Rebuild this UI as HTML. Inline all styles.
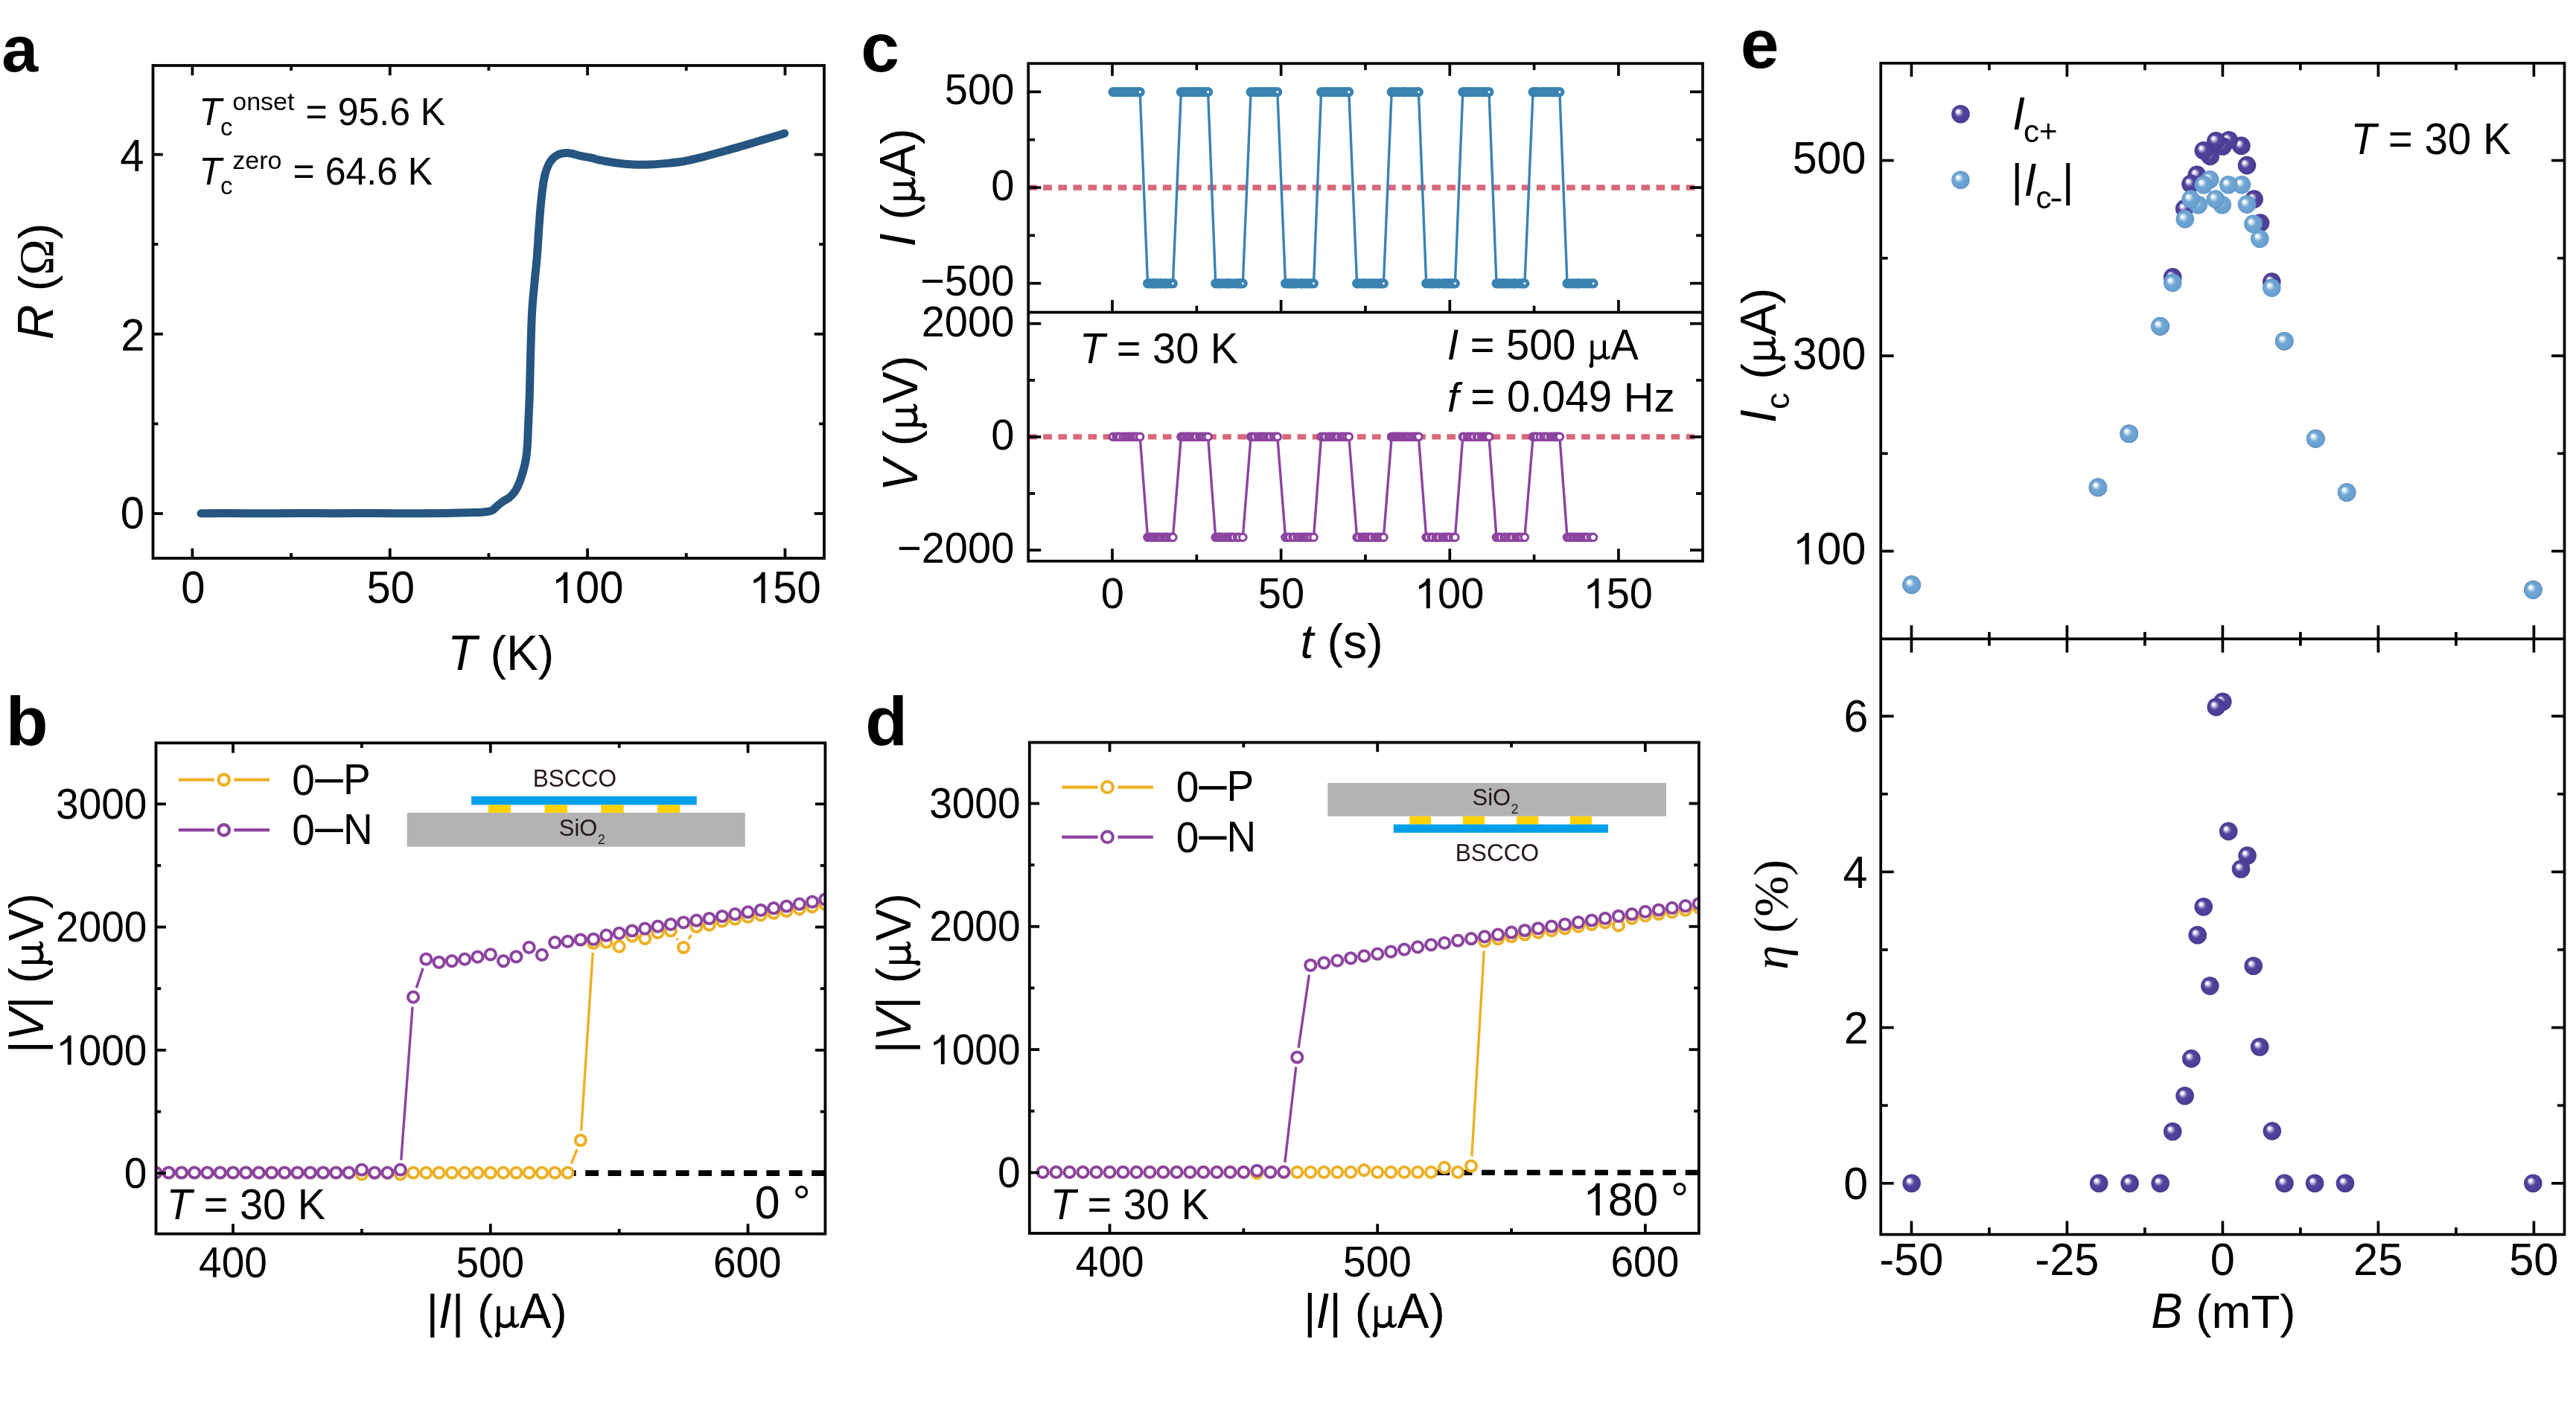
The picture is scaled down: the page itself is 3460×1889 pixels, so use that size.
<!DOCTYPE html>
<html><head><meta charset="utf-8"><style>
html,body{margin:0;padding:0;background:#fff;}
svg{display:block;will-change:transform;}
text{font-family:"Liberation Sans",sans-serif;font-kerning:none;white-space:pre;}
</style></head><body>
<svg xmlns="http://www.w3.org/2000/svg" xml:space="preserve" width="3460" height="1889" viewBox="0 0 3460 1889" font-family="Liberation Sans, sans-serif">
<defs><radialGradient id="gP" cx="0.5" cy="0.5" r="0.5" fx="0.33" fy="0.33">
<stop offset="0" stop-color="#ffffff"/><stop offset="0.13" stop-color="#fbfaff"/><stop offset="0.3" stop-color="#a49ccf"/>
<stop offset="0.48" stop-color="#51449c"/><stop offset="0.9" stop-color="#4b3e95"/><stop offset="1" stop-color="#43378c"/></radialGradient>
<radialGradient id="gB" cx="0.5" cy="0.5" r="0.5" fx="0.33" fy="0.33">
<stop offset="0" stop-color="#ffffff"/><stop offset="0.13" stop-color="#fbfdff"/><stop offset="0.3" stop-color="#b3d2eb"/>
<stop offset="0.48" stop-color="#70a7d4"/><stop offset="0.9" stop-color="#689fcf"/><stop offset="1" stop-color="#5d94c4"/></radialGradient></defs>
<rect x="0" y="0" width="3460" height="1889" fill="#fff"/>
<path d="M270 689.8 C275 689.73 286.67 689.4 300 689.4 C313.33 689.4 333.33 689.78 350 689.8 C366.67 689.82 383.33 689.52 400 689.5 C416.67 689.48 433.33 689.7 450 689.7 C466.67 689.7 483.33 689.48 500 689.5 C516.67 689.52 533.33 689.82 550 689.8 C566.67 689.78 585 689.6 600 689.4 C615 689.2 631.2 688.9 640 688.6 C648.8 688.3 649.25 688.1 652.8 687.6 C656.35 687.1 658.88 686.82 661.3 685.6 C663.72 684.38 664.88 682.3 667.3 680.3 C669.72 678.3 672.95 675.6 675.8 673.6 C678.65 671.6 681.98 670.23 684.4 668.3 C686.82 666.37 688.6 664.2 690.3 662 C692 659.8 693.17 657.97 694.6 655.1 C696.03 652.23 697.48 648.78 698.9 644.8 C700.32 640.82 701.9 635.6 703.1 631.2 C704.3 626.8 705.32 622.67 706.1 618.4 C706.88 614.13 707.37 609.87 707.8 605.6 C708.23 601.33 708.4 598.73 708.7 592.8 C709 586.87 709.17 580.27 709.6 570 C710.03 559.73 710.78 547.15 711.3 531.2 C711.82 515.25 712.13 493.25 712.7 474.3 C713.27 455.35 713.75 434.08 714.7 417.5 C715.65 400.92 717.32 386.65 718.4 374.8 C719.48 362.95 720.25 358.25 721.2 346.4 C722.15 334.55 723.15 316.5 724.1 303.7 C725.05 290.9 725.72 280.5 726.9 269.6 C728.08 258.7 729.3 246.83 731.2 238.3 C733.1 229.77 735.47 223.37 738.3 218.4 C741.13 213.43 744.17 210.63 748.2 208.5 C752.23 206.37 757.28 205.47 762.5 205.6 C767.72 205.73 773.82 208.12 779.5 209.3 C785.18 210.48 792.63 211.8 796.6 212.7 C800.57 213.6 798.3 213.68 803.3 214.7 C808.3 215.72 818.83 217.73 826.6 218.8 C834.37 219.87 842.13 220.72 849.9 221.1 C857.67 221.48 865.43 221.38 873.2 221.1 C880.97 220.82 888.75 220.17 896.5 219.4 C904.25 218.63 911.95 217.87 919.7 216.5 C927.45 215.13 935.23 213.15 943 211.2 C950.77 209.25 958.53 206.93 966.3 204.8 C974.07 202.67 981.83 200.63 989.6 198.4 C997.37 196.17 1005.13 193.72 1012.9 191.4 C1020.67 189.08 1029.4 186.53 1036.2 184.5 C1043 182.47 1050.78 180.08 1053.7 179.2" fill="none" stroke="#255580" stroke-width="11" stroke-linejoin="round" stroke-linecap="round"/>
<rect x="205.5" y="88" width="901.5" height="662" fill="none" stroke="#000" stroke-width="3.8" stroke-linejoin="miter"/>
<line x1="258.4" y1="750" x2="258.4" y2="736.7" stroke="#000" stroke-width="3.8"/>
<line x1="258.4" y1="88" x2="258.4" y2="101.3" stroke="#000" stroke-width="3.8"/>
<line x1="523.75" y1="750" x2="523.75" y2="736.7" stroke="#000" stroke-width="3.8"/>
<line x1="523.75" y1="88" x2="523.75" y2="101.3" stroke="#000" stroke-width="3.8"/>
<line x1="789.1" y1="750" x2="789.1" y2="736.7" stroke="#000" stroke-width="3.8"/>
<line x1="789.1" y1="88" x2="789.1" y2="101.3" stroke="#000" stroke-width="3.8"/>
<line x1="1054.45" y1="750" x2="1054.45" y2="736.7" stroke="#000" stroke-width="3.8"/>
<line x1="1054.45" y1="88" x2="1054.45" y2="101.3" stroke="#000" stroke-width="3.8"/>
<line x1="391.07" y1="750" x2="391.07" y2="743.1" stroke="#000" stroke-width="3.8"/>
<line x1="391.07" y1="88" x2="391.07" y2="94.9" stroke="#000" stroke-width="3.8"/>
<line x1="656.42" y1="750" x2="656.42" y2="743.1" stroke="#000" stroke-width="3.8"/>
<line x1="656.42" y1="88" x2="656.42" y2="94.9" stroke="#000" stroke-width="3.8"/>
<line x1="921.77" y1="750" x2="921.77" y2="743.1" stroke="#000" stroke-width="3.8"/>
<line x1="921.77" y1="88" x2="921.77" y2="94.9" stroke="#000" stroke-width="3.8"/>
<line x1="205.5" y1="690" x2="218.8" y2="690" stroke="#000" stroke-width="3.8"/>
<line x1="1107" y1="690" x2="1093.7" y2="690" stroke="#000" stroke-width="3.8"/>
<line x1="205.5" y1="448.8" x2="218.8" y2="448.8" stroke="#000" stroke-width="3.8"/>
<line x1="1107" y1="448.8" x2="1093.7" y2="448.8" stroke="#000" stroke-width="3.8"/>
<line x1="205.5" y1="207.6" x2="218.8" y2="207.6" stroke="#000" stroke-width="3.8"/>
<line x1="1107" y1="207.6" x2="1093.7" y2="207.6" stroke="#000" stroke-width="3.8"/>
<line x1="205.5" y1="569.4" x2="212.4" y2="569.4" stroke="#000" stroke-width="3.8"/>
<line x1="1107" y1="569.4" x2="1100.1" y2="569.4" stroke="#000" stroke-width="3.8"/>
<line x1="205.5" y1="328.2" x2="212.4" y2="328.2" stroke="#000" stroke-width="3.8"/>
<line x1="1107" y1="328.2" x2="1100.1" y2="328.2" stroke="#000" stroke-width="3.8"/>
<g transform="translate(243.27,810.2) scale(1,1.04)"><text x="0" y="0" font-size="58">0</text></g>
<g transform="translate(492.46,810.2) scale(1,1.04)"><text x="0" y="0" font-size="58">50</text></g>
<path d="M763 0L583 0L583 1100C540 1062 483 1024 413 987C343 950 280 922 223 902L223 1058C310 1095 386 1139 452 1191C518 1243 575 1320 605 1409L763 1409Z" fill="#000" transform="translate(740.64,810.2) scale(0.02832,-0.02945)"/>
<g transform="translate(772.9,810.2) scale(1,1.04)"><text x="0" y="0" font-size="58">00</text></g>
<path d="M763 0L583 0L583 1100C540 1062 483 1024 413 987C343 950 280 922 223 902L223 1058C310 1095 386 1139 452 1191C518 1243 575 1320 605 1409L763 1409Z" fill="#000" transform="translate(1005.99,810.2) scale(0.02832,-0.02945)"/>
<g transform="translate(1038.25,810.2) scale(1,1.04)"><text x="0" y="0" font-size="58">50</text></g>
<g transform="translate(161.71,710.32) scale(1,1.04)"><text x="0" y="0" font-size="58">0</text></g>
<g transform="translate(162.36,470.52) scale(1,1.04)"><text x="0" y="0" font-size="58">2</text></g>
<g transform="translate(161.14,230.1) scale(1,1.04)"><text x="0" y="0" font-size="58">4</text></g>
<g transform="translate(601.21,900.3) scale(1,1.04)"><text x="0" y="0" font-size="64.4" font-style="italic">T</text></g>
<text x="640.55" y="900.3" font-size="64.4"> (</text>
<g transform="translate(679.89,900.3) scale(1,1.04)"><text x="0" y="0" font-size="64.4">K</text></g>
<text x="722.84" y="900.3" font-size="64.4">)</text>
<g transform="translate(70.8,456.3) rotate(-90)"><g transform="translate(0,0) scale(1,1.04)"><text x="0" y="0" font-size="65" font-style="italic">R</text></g><text x="46.94" y="0" font-size="65"> (</text><text x="86.65" y="0" font-size="65" style="font-family:&quot;Liberation Serif&quot;,serif">Ω</text><text x="134.95" y="0" font-size="65">)</text></g>
<g transform="translate(267.21,168.3) scale(1,1.04)"><text x="0" y="0" font-size="50" font-style="italic">T</text></g>
<text x="296" y="182" font-size="33">c</text>
<text x="312.27" y="148.1" font-size="34">onset</text>
<g transform="translate(410.56,168.3) scale(1,1.04)"><text x="0" y="0" font-size="50">=</text></g>
<text x="439.76" y="168.3" font-size="50"> </text>
<g transform="translate(453.65,168.3) scale(1,1.04)"><text x="0" y="0" font-size="50">95.6</text></g>
<text x="550.96" y="168.3" font-size="50"> </text>
<g transform="translate(564.86,168.3) scale(1,1.04)"><text x="0" y="0" font-size="50">K</text></g>
<g transform="translate(267.21,247.5) scale(1,1.04)"><text x="0" y="0" font-size="50" font-style="italic">T</text></g>
<text x="296" y="261" font-size="33">c</text>
<text x="312.32" y="226.6" font-size="34">zero</text>
<g transform="translate(393.56,247.5) scale(1,1.04)"><text x="0" y="0" font-size="50">=</text></g>
<text x="422.76" y="247.5" font-size="50"> </text>
<g transform="translate(436.65,247.5) scale(1,1.04)"><text x="0" y="0" font-size="50">64.6</text></g>
<text x="533.96" y="247.5" font-size="50"> </text>
<g transform="translate(547.86,247.5) scale(1,1.04)"><text x="0" y="0" font-size="50">K</text></g>
<text x="2.32" y="96.04" font-size="88" font-weight="bold">a</text>
<clipPath id="clipb"><rect x="209.5" y="998.2" width="898.9" height="659.5"/></clipPath>
<g clip-path="url(#clipb)">
<line x1="755.8" y1="1576.1" x2="1108.4" y2="1576.1" stroke="#000" stroke-width="7.6" stroke-dasharray="17.8 12.6"/>
<path d="M767.33 1563.52 L775.04 1544.08 M780.68 1519.03 L796.27 1279.97 M908.78 1260.81 L910.23 1262.69 M924.98 1261.94 L928.61 1256.06" stroke="#ECB024" stroke-width="3.4" fill="none" stroke-linecap="butt"/>
<g fill="#fff" stroke="#ECB024" stroke-width="4"><circle cx="209.26" cy="1575.5" r="7.1"/><circle cx="226.55" cy="1575.5" r="7.1"/><circle cx="243.84" cy="1575.5" r="7.1"/><circle cx="261.13" cy="1575.5" r="7.1"/><circle cx="278.42" cy="1575.5" r="7.1"/><circle cx="295.71" cy="1575.5" r="7.1"/><circle cx="313" cy="1575.5" r="7.1"/><circle cx="330.29" cy="1575.5" r="7.1"/><circle cx="347.58" cy="1575.5" r="7.1"/><circle cx="364.87" cy="1575.5" r="7.1"/><circle cx="382.16" cy="1575.5" r="7.1"/><circle cx="399.45" cy="1575.5" r="7.1"/><circle cx="416.74" cy="1575.5" r="7.1"/><circle cx="434.03" cy="1575.5" r="7.1"/><circle cx="451.32" cy="1575.5" r="7.1"/><circle cx="468.61" cy="1575.5" r="7.1"/><circle cx="485.9" cy="1577.6" r="7.1"/><circle cx="503.19" cy="1575.8" r="7.1"/><circle cx="520.48" cy="1575.8" r="7.1"/><circle cx="537.77" cy="1577.6" r="7.1"/><circle cx="555.06" cy="1575.6" r="7.1"/><circle cx="572.35" cy="1575.6" r="7.1"/><circle cx="589.64" cy="1575.6" r="7.1"/><circle cx="606.93" cy="1575.6" r="7.1"/><circle cx="624.22" cy="1575.6" r="7.1"/><circle cx="641.51" cy="1575.6" r="7.1"/><circle cx="658.8" cy="1575.6" r="7.1"/><circle cx="676.09" cy="1575.6" r="7.1"/><circle cx="693.38" cy="1575.6" r="7.1"/><circle cx="710.67" cy="1575.6" r="7.1"/><circle cx="727.96" cy="1575.6" r="7.1"/><circle cx="745.25" cy="1575.6" r="7.1"/><circle cx="762.54" cy="1575.6" r="7.1"/><circle cx="779.83" cy="1532" r="7.1"/><circle cx="797.12" cy="1267" r="7.1"/><circle cx="814.41" cy="1265.7" r="7.1"/><circle cx="831.7" cy="1271.6" r="7.1"/><circle cx="848.99" cy="1257.5" r="7.1"/><circle cx="866.28" cy="1261" r="7.1"/><circle cx="883.57" cy="1253" r="7.1"/><circle cx="900.86" cy="1250.5" r="7.1"/><circle cx="918.15" cy="1273" r="7.1"/><circle cx="935.44" cy="1245" r="7.1"/><circle cx="952.73" cy="1242.6" r="7.1"/><circle cx="970.02" cy="1237.5" r="7.1"/><circle cx="987.31" cy="1234.6" r="7.1"/><circle cx="1004.6" cy="1231.9" r="7.1"/><circle cx="1021.89" cy="1229.3" r="7.1"/><circle cx="1039.18" cy="1226.7" r="7.1"/><circle cx="1056.47" cy="1224" r="7.1"/><circle cx="1073.76" cy="1221.1" r="7.1"/><circle cx="1091.05" cy="1218.1" r="7.1"/><circle cx="1108.34" cy="1214.8" r="7.1"/></g>
<path d="M538.74 1558.64 L554.09 1352.56 M559.23 1327.29 L568.18 1300.91" stroke="#8C44A0" stroke-width="3.4" fill="none" stroke-linecap="butt"/>
<g fill="#fff" stroke="#8C44A0" stroke-width="4"><circle cx="209.26" cy="1575.5" r="7.1"/><circle cx="226.55" cy="1575.5" r="7.1"/><circle cx="243.84" cy="1575.5" r="7.1"/><circle cx="261.13" cy="1575.5" r="7.1"/><circle cx="278.42" cy="1575.5" r="7.1"/><circle cx="295.71" cy="1575.5" r="7.1"/><circle cx="313" cy="1575.5" r="7.1"/><circle cx="330.29" cy="1575.5" r="7.1"/><circle cx="347.58" cy="1575.5" r="7.1"/><circle cx="364.87" cy="1575.5" r="7.1"/><circle cx="382.16" cy="1575.5" r="7.1"/><circle cx="399.45" cy="1575.5" r="7.1"/><circle cx="416.74" cy="1575.5" r="7.1"/><circle cx="434.03" cy="1575.5" r="7.1"/><circle cx="451.32" cy="1575.5" r="7.1"/><circle cx="468.61" cy="1575.5" r="7.1"/><circle cx="485.9" cy="1571.6" r="7.1"/><circle cx="503.19" cy="1575.5" r="7.1"/><circle cx="520.48" cy="1575.6" r="7.1"/><circle cx="537.77" cy="1571.6" r="7.1"/><circle cx="555.06" cy="1339.6" r="7.1"/><circle cx="572.35" cy="1288.6" r="7.1"/><circle cx="589.64" cy="1292.8" r="7.1"/><circle cx="606.93" cy="1291.1" r="7.1"/><circle cx="624.22" cy="1288.6" r="7.1"/><circle cx="641.51" cy="1285.6" r="7.1"/><circle cx="658.8" cy="1282.4" r="7.1"/><circle cx="676.09" cy="1291.1" r="7.1"/><circle cx="693.38" cy="1285.3" r="7.1"/><circle cx="710.67" cy="1272.9" r="7.1"/><circle cx="727.96" cy="1282.9" r="7.1"/><circle cx="745.25" cy="1266.2" r="7.1"/><circle cx="762.54" cy="1264.9" r="7.1"/><circle cx="779.83" cy="1262.5" r="7.1"/><circle cx="797.12" cy="1261.8" r="7.1"/><circle cx="814.41" cy="1256.7" r="7.1"/><circle cx="831.7" cy="1253.8" r="7.1"/><circle cx="848.99" cy="1250.5" r="7.1"/><circle cx="866.28" cy="1247.6" r="7.1"/><circle cx="883.57" cy="1244.6" r="7.1"/><circle cx="900.86" cy="1241.9" r="7.1"/><circle cx="918.15" cy="1239.3" r="7.1"/><circle cx="935.44" cy="1236.7" r="7.1"/><circle cx="952.73" cy="1234" r="7.1"/><circle cx="970.02" cy="1231" r="7.1"/><circle cx="987.31" cy="1228.1" r="7.1"/><circle cx="1004.6" cy="1225.4" r="7.1"/><circle cx="1021.89" cy="1222.8" r="7.1"/><circle cx="1039.18" cy="1220.2" r="7.1"/><circle cx="1056.47" cy="1217.5" r="7.1"/><circle cx="1073.76" cy="1214.6" r="7.1"/><circle cx="1091.05" cy="1211.6" r="7.1"/><circle cx="1108.34" cy="1208.3" r="7.1"/></g>
</g>
<rect x="209.5" y="998.2" width="898.9" height="659.5" fill="none" stroke="#000" stroke-width="3.8" stroke-linejoin="miter"/>
<line x1="313" y1="1657.7" x2="313" y2="1644.3" stroke="#000" stroke-width="3.8"/>
<line x1="313" y1="998.2" x2="313" y2="1011.6" stroke="#000" stroke-width="3.8"/>
<line x1="658.8" y1="1657.7" x2="658.8" y2="1644.3" stroke="#000" stroke-width="3.8"/>
<line x1="658.8" y1="998.2" x2="658.8" y2="1011.6" stroke="#000" stroke-width="3.8"/>
<line x1="1004.6" y1="1657.7" x2="1004.6" y2="1644.3" stroke="#000" stroke-width="3.8"/>
<line x1="1004.6" y1="998.2" x2="1004.6" y2="1011.6" stroke="#000" stroke-width="3.8"/>
<line x1="485.9" y1="1657.7" x2="485.9" y2="1651" stroke="#000" stroke-width="3.8"/>
<line x1="485.9" y1="998.2" x2="485.9" y2="1004.9" stroke="#000" stroke-width="3.8"/>
<line x1="831.7" y1="1657.7" x2="831.7" y2="1651" stroke="#000" stroke-width="3.8"/>
<line x1="831.7" y1="998.2" x2="831.7" y2="1004.9" stroke="#000" stroke-width="3.8"/>
<line x1="209.5" y1="1576.2" x2="222.9" y2="1576.2" stroke="#000" stroke-width="3.8"/>
<line x1="1108.4" y1="1576.2" x2="1095" y2="1576.2" stroke="#000" stroke-width="3.8"/>
<line x1="209.5" y1="1410.87" x2="222.9" y2="1410.87" stroke="#000" stroke-width="3.8"/>
<line x1="1108.4" y1="1410.87" x2="1095" y2="1410.87" stroke="#000" stroke-width="3.8"/>
<line x1="209.5" y1="1245.54" x2="222.9" y2="1245.54" stroke="#000" stroke-width="3.8"/>
<line x1="1108.4" y1="1245.54" x2="1095" y2="1245.54" stroke="#000" stroke-width="3.8"/>
<line x1="209.5" y1="1080.21" x2="222.9" y2="1080.21" stroke="#000" stroke-width="3.8"/>
<line x1="1108.4" y1="1080.21" x2="1095" y2="1080.21" stroke="#000" stroke-width="3.8"/>
<line x1="209.5" y1="1493.54" x2="216.2" y2="1493.54" stroke="#000" stroke-width="3.8"/>
<line x1="1108.4" y1="1493.54" x2="1101.7" y2="1493.54" stroke="#000" stroke-width="3.8"/>
<line x1="209.5" y1="1328.2" x2="216.2" y2="1328.2" stroke="#000" stroke-width="3.8"/>
<line x1="1108.4" y1="1328.2" x2="1101.7" y2="1328.2" stroke="#000" stroke-width="3.8"/>
<line x1="209.5" y1="1162.88" x2="216.2" y2="1162.88" stroke="#000" stroke-width="3.8"/>
<line x1="1108.4" y1="1162.88" x2="1101.7" y2="1162.88" stroke="#000" stroke-width="3.8"/>
<g transform="translate(267.06,1715.7) scale(1,1.04)"><text x="0" y="0" font-size="55">400</text></g>
<g transform="translate(612.39,1715.7) scale(1,1.04)"><text x="0" y="0" font-size="55">500</text></g>
<g transform="translate(957.9,1715.7) scale(1,1.04)"><text x="0" y="0" font-size="55">600</text></g>
<g transform="translate(166.86,1595.89) scale(1,1.04)"><text x="0" y="0" font-size="55">0</text></g>
<path d="M763 0L583 0L583 1100C540 1062 483 1024 413 987C343 950 280 922 223 902L223 1058C310 1095 386 1139 452 1191C518 1243 575 1320 605 1409L763 1409Z" fill="#000" transform="translate(75.09,1430.56) scale(0.02686,-0.02793)"/>
<g transform="translate(105.68,1430.56) scale(1,1.04)"><text x="0" y="0" font-size="55">000</text></g>
<g transform="translate(75.09,1265.23) scale(1,1.04)"><text x="0" y="0" font-size="55">2000</text></g>
<g transform="translate(75.09,1099.9) scale(1,1.04)"><text x="0" y="0" font-size="55">3000</text></g>
<text x="572.4" y="1783.7" font-size="63.8">|</text>
<g transform="translate(588.97,1783.7) scale(1,1.04)"><text x="0" y="0" font-size="63.8" font-style="italic">I</text></g>
<text x="606.7" y="1783.7" font-size="63.8">| (</text>
<path d="M0 451L72 451L72 123C90 80 130 69 181 69C230 69 270 100 294 139L294 451L368 451L368 108C368 72 385 58 410 62C430 66 448 80 470 100L470 45C445 15 415 -4 385 -4C345 -4 315 18 302 48C275 12 225 -9 170 -9C128 -9 95 3 72 22L62 -80C70 -105 76 -130 70 -155C62 -188 40 -205 13 -205C-15 -205 -36 -185 -36 -157C-36 -130 -20 -112 -8 -92C-3 -75 0 -50 0 0Z" fill="#000" transform="translate(662.24,1783.7) scale(0.06380,-0.06380) translate(77,0)"/>
<g transform="translate(697.97,1783.7) scale(1,1.04)"><text x="0" y="0" font-size="63.8">A</text></g>
<text x="740.52" y="1783.7" font-size="63.8">)</text>
<g transform="translate(58,1415.03) rotate(-90)"><text x="0" y="0" font-size="64.1">|</text><g transform="translate(16.65,0) scale(1,1.04)"><text x="0" y="0" font-size="64.1" font-style="italic">V</text></g><text x="59.41" y="0" font-size="64.1">| (</text><path d="M0 451L72 451L72 123C90 80 130 69 181 69C230 69 270 100 294 139L294 451L368 451L368 108C368 72 385 58 410 62C430 66 448 80 470 100L470 45C445 15 415 -4 385 -4C345 -4 315 18 302 48C275 12 225 -9 170 -9C128 -9 95 3 72 22L62 -80C70 -105 76 -130 70 -155C62 -188 40 -205 13 -205C-15 -205 -36 -185 -36 -157C-36 -130 -20 -112 -8 -92C-3 -75 0 -50 0 0Z" fill="#000" transform="translate(115.21,0) scale(0.06410,-0.06410) translate(77,0)"/><g transform="translate(151.11,0) scale(1,1.04)"><text x="0" y="0" font-size="64.1">V</text></g><text x="193.86" y="0" font-size="64.1">)</text></g>
<line x1="239.8" y1="1047.7" x2="287.9" y2="1047.7" stroke="#ECB024" stroke-width="4.2"/>
<line x1="314.3" y1="1047.7" x2="362.1" y2="1047.7" stroke="#ECB024" stroke-width="4.2"/>
<circle cx="300.7" cy="1047.7" r="7.2" fill="none" stroke="#ECB024" stroke-width="4.3"/>
<line x1="239.8" y1="1115.2" x2="287.9" y2="1115.2" stroke="#8C44A0" stroke-width="4.2"/>
<line x1="314.3" y1="1115.2" x2="362.1" y2="1115.2" stroke="#8C44A0" stroke-width="4.2"/>
<circle cx="300.7" cy="1115.2" r="7.2" fill="none" stroke="#8C44A0" stroke-width="4.3"/>
<g transform="translate(392.15,1067.64) scale(1,1.04)"><text x="0" y="0" font-size="55">0</text></g>
<rect x="423.2" y="1047" width="37.6" height="4.4" fill="#000"/>
<g transform="translate(460.99,1066.6) scale(1,1.04)"><text x="0" y="0" font-size="55">P</text></g>
<g transform="translate(392.15,1134.94) scale(1,1.04)"><text x="0" y="0" font-size="55">0</text></g>
<rect x="423.2" y="1113.6" width="37.6" height="4.4" fill="#000"/>
<g transform="translate(460.99,1133.9) scale(1,1.04)"><text x="0" y="0" font-size="55">N</text></g>
<rect x="546.7" y="1091.9" width="454.1" height="45.7" fill="#B3B3B3"/>
<rect x="633.1" y="1069.8" width="302.7" height="11.6" fill="#00A0E9"/>
<rect x="655.9" y="1081.4" width="30.1" height="10.5" fill="#FFD100"/>
<rect x="731.6" y="1081.4" width="30.5" height="10.5" fill="#FFD100"/>
<rect x="807.3" y="1081.4" width="30.3" height="10.5" fill="#FFD100"/>
<rect x="882.9" y="1081.4" width="30.4" height="10.5" fill="#FFD100"/>
<g transform="translate(715.71,1057.25) scale(1,1.04)"><text x="0" y="0" font-size="31.6" fill="#231815">BSCCO</text></g>
<text x="750.79" y="1122.7" font-size="31" fill="#231815">SiO</text>
<g transform="translate(803.02,1133.6) scale(1,1.04)"><text x="0" y="0" font-size="17.5" fill="#231815">2</text></g>
<g transform="translate(223.87,1638.2) scale(1,1.04)"><text x="0" y="0" font-size="56" font-style="italic">T</text></g>
<text x="258.08" y="1638.2" font-size="56"> </text>
<g transform="translate(273.63,1638.2) scale(1,1.04)"><text x="0" y="0" font-size="56">=</text></g>
<text x="306.34" y="1638.2" font-size="56"> </text>
<g transform="translate(321.9,1638.2) scale(1,1.04)"><text x="0" y="0" font-size="56">30</text></g>
<text x="384.19" y="1638.2" font-size="56"> </text>
<g transform="translate(399.74,1638.2) scale(1,1.04)"><text x="0" y="0" font-size="56">K</text></g>
<g transform="translate(1013.83,1636.65) scale(1,1.04)"><text x="0" y="0" font-size="60.8">0</text></g>
<text x="1047.65" y="1636.65" font-size="60.8"> </text>
<g transform="translate(1064.54,1636.65) scale(1,1.04)"><text x="0" y="0" font-size="60.8">°</text></g>
<text x="7.77" y="1000.7" font-size="93" font-weight="bold">b</text>
<line x1="1381.2" y1="252" x2="2278" y2="252" stroke="#D8687A" stroke-width="7.4" stroke-dasharray="11.6 8.48"/>
<line x1="1381.2" y1="586.9" x2="2278" y2="586.9" stroke="#D8687A" stroke-width="7.4" stroke-dasharray="11.6 8.48"/>
<path d="M1495 123.6 L1497.4 123.6 L1499.4 123.6 L1502.2 123.6 L1506.8 123.6 L1508.4 123.6 L1510 123.6 L1513.2 123.6 L1514.8 123.6 L1517.2 123.6 L1520.4 123.6 L1522 123.6 L1525.2 123.6 L1527.2 123.6 L1528.8 123.6 L1531.2 123.6 L1541.5 380.8 L1544.3 380.8 L1547.1 380.8 L1548.7 380.8 L1550.7 380.8 L1552.3 380.8 L1555.5 380.8 L1558.3 380.8 L1559.9 380.8 L1563.1 380.8 L1564.7 380.8 L1566.7 380.8 L1571.3 380.8 L1575.4 380.8 L1586.4 123.6 L1589.6 123.6 L1591.2 123.6 L1594.4 123.6 L1597.6 123.6 L1600.4 123.6 L1602 123.6 L1604 123.6 L1605.6 123.6 L1608.8 123.6 L1610.8 123.6 L1613.2 123.6 L1616 123.6 L1618 123.6 L1621.2 123.6 L1622.6 123.6 L1632.7 380.8 L1635.9 380.8 L1638.3 380.8 L1641.5 380.8 L1646.1 380.8 L1648.1 380.8 L1649.7 380.8 L1652.9 380.8 L1656.1 380.8 L1660.7 380.8 L1662.7 380.8 L1665.1 380.8 L1666.7 380.8 L1669.3 380.8 L1680.1 123.6 L1684.7 123.6 L1686.3 123.6 L1689.5 123.6 L1691.1 123.6 L1694.3 123.6 L1696.3 123.6 L1699.1 123.6 L1703.7 123.6 L1706.9 123.6 L1709.7 123.6 L1712.1 123.6 L1715.8 123.6 L1726.5 380.8 L1729.7 380.8 L1732.5 380.8 L1734.9 380.8 L1737.3 380.8 L1739.3 380.8 L1741.3 380.8 L1745.9 380.8 L1747.9 380.8 L1749.5 380.8 L1752.7 380.8 L1755.1 380.8 L1758.3 380.8 L1761.1 380.8 L1764.5 380.8 L1774.6 123.6 L1779.2 123.6 L1782 123.6 L1784.4 123.6 L1787.6 123.6 L1789.2 123.6 L1790.8 123.6 L1794 123.6 L1796.8 123.6 L1798.8 123.6 L1801.2 123.6 L1803.2 123.6 L1806 123.6 L1808.8 123.6 L1810.4 123.6 L1811.8 123.6 L1822.6 380.8 L1824.2 380.8 L1827.4 380.8 L1830.6 380.8 L1833 380.8 L1835.4 380.8 L1840 380.8 L1842.4 380.8 L1845.6 380.8 L1848.4 380.8 L1851.6 380.8 L1854.4 380.8 L1856 380.8 L1858.4 380.8 L1869.2 123.6 L1871.6 123.6 L1874.4 123.6 L1879 123.6 L1883.6 123.6 L1885.2 123.6 L1886.8 123.6 L1891.4 123.6 L1896 123.6 L1898.4 123.6 L1903 123.6 L1905.4 123.6 L1915.7 380.8 L1920.3 380.8 L1923.1 380.8 L1925.5 380.8 L1930.1 380.8 L1932.9 380.8 L1937.5 380.8 L1939.9 380.8 L1941.5 380.8 L1944.3 380.8 L1946.7 380.8 L1948.7 380.8 L1951.9 380.8 L1954.4 380.8 L1964.8 123.6 L1967.6 123.6 L1969.2 123.6 L1971.2 123.6 L1973.6 123.6 L1975.6 123.6 L1980.2 123.6 L1982.2 123.6 L1985 123.6 L1987.8 123.6 L1990.6 123.6 L1992.2 123.6 L1994.2 123.6 L1997 123.6 L2000 123.6 L2010 380.8 L2013.2 380.8 L2015.6 380.8 L2017.6 380.8 L2020.4 380.8 L2023.6 380.8 L2026 380.8 L2030.6 380.8 L2033.4 380.8 L2035.8 380.8 L2040.4 380.8 L2043.2 380.8 L2045.2 380.8 L2047.9 380.8 L2059.1 123.6 L2060.7 123.6 L2062.7 123.6 L2064.7 123.6 L2066.7 123.6 L2071.3 123.6 L2073.3 123.6 L2074.9 123.6 L2077.7 123.6 L2080.9 123.6 L2082.9 123.6 L2085.3 123.6 L2087.7 123.6 L2089.3 123.6 L2091.3 123.6 L2094.9 123.6 L2105 380.8 L2108.2 380.8 L2110.6 380.8 L2113.8 380.8 L2117 380.8 L2119.4 380.8 L2121.4 380.8 L2126 380.8 L2129.2 380.8 L2132.4 380.8 L2137 380.8 L2140.1 380.8" fill="none" stroke="#3A83B2" stroke-width="3.4" stroke-linejoin="round"/>
<g fill="#fff" stroke="#3A83B2" stroke-width="5"><circle cx="1495" cy="123.6" r="4.1"/><circle cx="1497.4" cy="123.6" r="4.1"/><circle cx="1499.4" cy="123.6" r="4.1"/><circle cx="1502.2" cy="123.6" r="4.1"/><circle cx="1506.8" cy="123.6" r="4.1"/><circle cx="1508.4" cy="123.6" r="4.1"/><circle cx="1510" cy="123.6" r="4.1"/><circle cx="1513.2" cy="123.6" r="4.1"/><circle cx="1514.8" cy="123.6" r="4.1"/><circle cx="1517.2" cy="123.6" r="4.1"/><circle cx="1520.4" cy="123.6" r="4.1"/><circle cx="1522" cy="123.6" r="4.1"/><circle cx="1525.2" cy="123.6" r="4.1"/><circle cx="1527.2" cy="123.6" r="4.1"/><circle cx="1528.8" cy="123.6" r="4.1"/><circle cx="1531.2" cy="123.6" r="4.1"/><circle cx="1541.5" cy="380.8" r="4.1"/><circle cx="1544.3" cy="380.8" r="4.1"/><circle cx="1547.1" cy="380.8" r="4.1"/><circle cx="1548.7" cy="380.8" r="4.1"/><circle cx="1550.7" cy="380.8" r="4.1"/><circle cx="1552.3" cy="380.8" r="4.1"/><circle cx="1555.5" cy="380.8" r="4.1"/><circle cx="1558.3" cy="380.8" r="4.1"/><circle cx="1559.9" cy="380.8" r="4.1"/><circle cx="1563.1" cy="380.8" r="4.1"/><circle cx="1564.7" cy="380.8" r="4.1"/><circle cx="1566.7" cy="380.8" r="4.1"/><circle cx="1571.3" cy="380.8" r="4.1"/><circle cx="1575.4" cy="380.8" r="4.1"/><circle cx="1586.4" cy="123.6" r="4.1"/><circle cx="1589.6" cy="123.6" r="4.1"/><circle cx="1591.2" cy="123.6" r="4.1"/><circle cx="1594.4" cy="123.6" r="4.1"/><circle cx="1597.6" cy="123.6" r="4.1"/><circle cx="1600.4" cy="123.6" r="4.1"/><circle cx="1602" cy="123.6" r="4.1"/><circle cx="1604" cy="123.6" r="4.1"/><circle cx="1605.6" cy="123.6" r="4.1"/><circle cx="1608.8" cy="123.6" r="4.1"/><circle cx="1610.8" cy="123.6" r="4.1"/><circle cx="1613.2" cy="123.6" r="4.1"/><circle cx="1616" cy="123.6" r="4.1"/><circle cx="1618" cy="123.6" r="4.1"/><circle cx="1621.2" cy="123.6" r="4.1"/><circle cx="1622.6" cy="123.6" r="4.1"/><circle cx="1632.7" cy="380.8" r="4.1"/><circle cx="1635.9" cy="380.8" r="4.1"/><circle cx="1638.3" cy="380.8" r="4.1"/><circle cx="1641.5" cy="380.8" r="4.1"/><circle cx="1646.1" cy="380.8" r="4.1"/><circle cx="1648.1" cy="380.8" r="4.1"/><circle cx="1649.7" cy="380.8" r="4.1"/><circle cx="1652.9" cy="380.8" r="4.1"/><circle cx="1656.1" cy="380.8" r="4.1"/><circle cx="1660.7" cy="380.8" r="4.1"/><circle cx="1662.7" cy="380.8" r="4.1"/><circle cx="1665.1" cy="380.8" r="4.1"/><circle cx="1666.7" cy="380.8" r="4.1"/><circle cx="1669.3" cy="380.8" r="4.1"/><circle cx="1680.1" cy="123.6" r="4.1"/><circle cx="1684.7" cy="123.6" r="4.1"/><circle cx="1686.3" cy="123.6" r="4.1"/><circle cx="1689.5" cy="123.6" r="4.1"/><circle cx="1691.1" cy="123.6" r="4.1"/><circle cx="1694.3" cy="123.6" r="4.1"/><circle cx="1696.3" cy="123.6" r="4.1"/><circle cx="1699.1" cy="123.6" r="4.1"/><circle cx="1703.7" cy="123.6" r="4.1"/><circle cx="1706.9" cy="123.6" r="4.1"/><circle cx="1709.7" cy="123.6" r="4.1"/><circle cx="1712.1" cy="123.6" r="4.1"/><circle cx="1715.8" cy="123.6" r="4.1"/><circle cx="1726.5" cy="380.8" r="4.1"/><circle cx="1729.7" cy="380.8" r="4.1"/><circle cx="1732.5" cy="380.8" r="4.1"/><circle cx="1734.9" cy="380.8" r="4.1"/><circle cx="1737.3" cy="380.8" r="4.1"/><circle cx="1739.3" cy="380.8" r="4.1"/><circle cx="1741.3" cy="380.8" r="4.1"/><circle cx="1745.9" cy="380.8" r="4.1"/><circle cx="1747.9" cy="380.8" r="4.1"/><circle cx="1749.5" cy="380.8" r="4.1"/><circle cx="1752.7" cy="380.8" r="4.1"/><circle cx="1755.1" cy="380.8" r="4.1"/><circle cx="1758.3" cy="380.8" r="4.1"/><circle cx="1761.1" cy="380.8" r="4.1"/><circle cx="1764.5" cy="380.8" r="4.1"/><circle cx="1774.6" cy="123.6" r="4.1"/><circle cx="1779.2" cy="123.6" r="4.1"/><circle cx="1782" cy="123.6" r="4.1"/><circle cx="1784.4" cy="123.6" r="4.1"/><circle cx="1787.6" cy="123.6" r="4.1"/><circle cx="1789.2" cy="123.6" r="4.1"/><circle cx="1790.8" cy="123.6" r="4.1"/><circle cx="1794" cy="123.6" r="4.1"/><circle cx="1796.8" cy="123.6" r="4.1"/><circle cx="1798.8" cy="123.6" r="4.1"/><circle cx="1801.2" cy="123.6" r="4.1"/><circle cx="1803.2" cy="123.6" r="4.1"/><circle cx="1806" cy="123.6" r="4.1"/><circle cx="1808.8" cy="123.6" r="4.1"/><circle cx="1810.4" cy="123.6" r="4.1"/><circle cx="1811.8" cy="123.6" r="4.1"/><circle cx="1822.6" cy="380.8" r="4.1"/><circle cx="1824.2" cy="380.8" r="4.1"/><circle cx="1827.4" cy="380.8" r="4.1"/><circle cx="1830.6" cy="380.8" r="4.1"/><circle cx="1833" cy="380.8" r="4.1"/><circle cx="1835.4" cy="380.8" r="4.1"/><circle cx="1840" cy="380.8" r="4.1"/><circle cx="1842.4" cy="380.8" r="4.1"/><circle cx="1845.6" cy="380.8" r="4.1"/><circle cx="1848.4" cy="380.8" r="4.1"/><circle cx="1851.6" cy="380.8" r="4.1"/><circle cx="1854.4" cy="380.8" r="4.1"/><circle cx="1856" cy="380.8" r="4.1"/><circle cx="1858.4" cy="380.8" r="4.1"/><circle cx="1869.2" cy="123.6" r="4.1"/><circle cx="1871.6" cy="123.6" r="4.1"/><circle cx="1874.4" cy="123.6" r="4.1"/><circle cx="1879" cy="123.6" r="4.1"/><circle cx="1883.6" cy="123.6" r="4.1"/><circle cx="1885.2" cy="123.6" r="4.1"/><circle cx="1886.8" cy="123.6" r="4.1"/><circle cx="1891.4" cy="123.6" r="4.1"/><circle cx="1896" cy="123.6" r="4.1"/><circle cx="1898.4" cy="123.6" r="4.1"/><circle cx="1903" cy="123.6" r="4.1"/><circle cx="1905.4" cy="123.6" r="4.1"/><circle cx="1915.7" cy="380.8" r="4.1"/><circle cx="1920.3" cy="380.8" r="4.1"/><circle cx="1923.1" cy="380.8" r="4.1"/><circle cx="1925.5" cy="380.8" r="4.1"/><circle cx="1930.1" cy="380.8" r="4.1"/><circle cx="1932.9" cy="380.8" r="4.1"/><circle cx="1937.5" cy="380.8" r="4.1"/><circle cx="1939.9" cy="380.8" r="4.1"/><circle cx="1941.5" cy="380.8" r="4.1"/><circle cx="1944.3" cy="380.8" r="4.1"/><circle cx="1946.7" cy="380.8" r="4.1"/><circle cx="1948.7" cy="380.8" r="4.1"/><circle cx="1951.9" cy="380.8" r="4.1"/><circle cx="1954.4" cy="380.8" r="4.1"/><circle cx="1964.8" cy="123.6" r="4.1"/><circle cx="1967.6" cy="123.6" r="4.1"/><circle cx="1969.2" cy="123.6" r="4.1"/><circle cx="1971.2" cy="123.6" r="4.1"/><circle cx="1973.6" cy="123.6" r="4.1"/><circle cx="1975.6" cy="123.6" r="4.1"/><circle cx="1980.2" cy="123.6" r="4.1"/><circle cx="1982.2" cy="123.6" r="4.1"/><circle cx="1985" cy="123.6" r="4.1"/><circle cx="1987.8" cy="123.6" r="4.1"/><circle cx="1990.6" cy="123.6" r="4.1"/><circle cx="1992.2" cy="123.6" r="4.1"/><circle cx="1994.2" cy="123.6" r="4.1"/><circle cx="1997" cy="123.6" r="4.1"/><circle cx="2000" cy="123.6" r="4.1"/><circle cx="2010" cy="380.8" r="4.1"/><circle cx="2013.2" cy="380.8" r="4.1"/><circle cx="2015.6" cy="380.8" r="4.1"/><circle cx="2017.6" cy="380.8" r="4.1"/><circle cx="2020.4" cy="380.8" r="4.1"/><circle cx="2023.6" cy="380.8" r="4.1"/><circle cx="2026" cy="380.8" r="4.1"/><circle cx="2030.6" cy="380.8" r="4.1"/><circle cx="2033.4" cy="380.8" r="4.1"/><circle cx="2035.8" cy="380.8" r="4.1"/><circle cx="2040.4" cy="380.8" r="4.1"/><circle cx="2043.2" cy="380.8" r="4.1"/><circle cx="2045.2" cy="380.8" r="4.1"/><circle cx="2047.9" cy="380.8" r="4.1"/><circle cx="2059.1" cy="123.6" r="4.1"/><circle cx="2060.7" cy="123.6" r="4.1"/><circle cx="2062.7" cy="123.6" r="4.1"/><circle cx="2064.7" cy="123.6" r="4.1"/><circle cx="2066.7" cy="123.6" r="4.1"/><circle cx="2071.3" cy="123.6" r="4.1"/><circle cx="2073.3" cy="123.6" r="4.1"/><circle cx="2074.9" cy="123.6" r="4.1"/><circle cx="2077.7" cy="123.6" r="4.1"/><circle cx="2080.9" cy="123.6" r="4.1"/><circle cx="2082.9" cy="123.6" r="4.1"/><circle cx="2085.3" cy="123.6" r="4.1"/><circle cx="2087.7" cy="123.6" r="4.1"/><circle cx="2089.3" cy="123.6" r="4.1"/><circle cx="2091.3" cy="123.6" r="4.1"/><circle cx="2094.9" cy="123.6" r="4.1"/><circle cx="2105" cy="380.8" r="4.1"/><circle cx="2108.2" cy="380.8" r="4.1"/><circle cx="2110.6" cy="380.8" r="4.1"/><circle cx="2113.8" cy="380.8" r="4.1"/><circle cx="2117" cy="380.8" r="4.1"/><circle cx="2119.4" cy="380.8" r="4.1"/><circle cx="2121.4" cy="380.8" r="4.1"/><circle cx="2126" cy="380.8" r="4.1"/><circle cx="2129.2" cy="380.8" r="4.1"/><circle cx="2132.4" cy="380.8" r="4.1"/><circle cx="2137" cy="380.8" r="4.1"/><circle cx="2140.1" cy="380.8" r="4.1"/></g>
<path d="M1495 586.8 L1499.6 586.8 L1501.2 586.8 L1504 586.8 L1508.6 586.8 L1511.8 586.8 L1514.6 586.8 L1517.4 586.8 L1520.2 586.8 L1523 586.8 L1524.6 586.8 L1527.4 586.8 L1531.2 586.8 L1541.5 721.9 L1544.3 721.9 L1545.9 721.9 L1547.9 721.9 L1549.5 721.9 L1551.5 721.9 L1554.3 721.9 L1556.3 721.9 L1557.9 721.9 L1560.3 721.9 L1563.5 721.9 L1565.1 721.9 L1566.7 721.9 L1568.3 721.9 L1571.5 721.9 L1573.5 721.9 L1575.4 721.9 L1586.4 586.8 L1588 586.8 L1590.4 586.8 L1593.6 586.8 L1595.2 586.8 L1596.8 586.8 L1598.8 586.8 L1602 586.8 L1604.8 586.8 L1606.8 586.8 L1611.4 586.8 L1613.8 586.8 L1616.2 586.8 L1619.4 586.8 L1622.6 586.8 L1632.7 721.9 L1635.5 721.9 L1637.1 721.9 L1638.7 721.9 L1641.5 721.9 L1644.3 721.9 L1647.1 721.9 L1649.9 721.9 L1652.3 721.9 L1653.9 721.9 L1655.9 721.9 L1657.5 721.9 L1662.1 721.9 L1664.5 721.9 L1669.3 721.9 L1680.1 586.8 L1682.5 586.8 L1685.3 586.8 L1689.9 586.8 L1691.9 586.8 L1695.1 586.8 L1696.7 586.8 L1698.7 586.8 L1701.9 586.8 L1704.3 586.8 L1706.3 586.8 L1710.9 586.8 L1714.1 586.8 L1715.8 586.8 L1726.5 721.9 L1729.7 721.9 L1732.1 721.9 L1736.7 721.9 L1738.3 721.9 L1742.9 721.9 L1745.3 721.9 L1748.5 721.9 L1750.9 721.9 L1752.9 721.9 L1755.3 721.9 L1757.3 721.9 L1760.5 721.9 L1764.5 721.9 L1774.6 586.8 L1777.8 586.8 L1780.2 586.8 L1784.8 586.8 L1786.8 586.8 L1790 586.8 L1792 586.8 L1794 586.8 L1796.8 586.8 L1801.4 586.8 L1803.4 586.8 L1805.4 586.8 L1808.6 586.8 L1811.8 586.8 L1822.6 721.9 L1825 721.9 L1829.6 721.9 L1831.2 721.9 L1832.8 721.9 L1835.2 721.9 L1838 721.9 L1840.4 721.9 L1842.4 721.9 L1847 721.9 L1850.2 721.9 L1852.6 721.9 L1855.4 721.9 L1858.4 721.9 L1869.2 586.8 L1871.6 586.8 L1874 586.8 L1875.6 586.8 L1877.6 586.8 L1879.2 586.8 L1881.2 586.8 L1884 586.8 L1886 586.8 L1888.4 586.8 L1890.4 586.8 L1893.2 586.8 L1896.4 586.8 L1899.6 586.8 L1901.2 586.8 L1904 586.8 L1905.4 586.8 L1915.7 721.9 L1918.1 721.9 L1922.7 721.9 L1924.3 721.9 L1928.9 721.9 L1930.5 721.9 L1933.3 721.9 L1937.9 721.9 L1939.9 721.9 L1942.7 721.9 L1944.7 721.9 L1947.5 721.9 L1952.1 721.9 L1954.4 721.9 L1964.8 586.8 L1966.4 586.8 L1971 586.8 L1973.8 586.8 L1976.6 586.8 L1979.4 586.8 L1984 586.8 L1985.6 586.8 L1990.2 586.8 L1992.2 586.8 L1994.2 586.8 L1996.2 586.8 L1997.8 586.8 L2000 586.8 L2010 721.9 L2013.2 721.9 L2016 721.9 L2020.6 721.9 L2022.6 721.9 L2025.8 721.9 L2029 721.9 L2031.8 721.9 L2036.4 721.9 L2038.8 721.9 L2040.8 721.9 L2044 721.9 L2047.9 721.9 L2059.1 586.8 L2061.1 586.8 L2062.7 586.8 L2064.3 586.8 L2068.9 586.8 L2073.5 586.8 L2075.1 586.8 L2078.3 586.8 L2082.9 586.8 L2084.9 586.8 L2087.7 586.8 L2089.7 586.8 L2091.7 586.8 L2093.3 586.8 L2094.9 586.8 L2105 721.9 L2107 721.9 L2109.4 721.9 L2112.6 721.9 L2114.6 721.9 L2117.8 721.9 L2120.2 721.9 L2122.6 721.9 L2125.8 721.9 L2128.6 721.9 L2130.6 721.9 L2132.2 721.9 L2136.8 721.9 L2140.1 721.9" fill="none" stroke="#8C44A0" stroke-width="3.4" stroke-linejoin="round"/>
<g fill="#fff" stroke="#8C44A0" stroke-width="3.2"><circle cx="1495" cy="586.8" r="4.7"/><circle cx="1499.6" cy="586.8" r="4.7"/><circle cx="1501.2" cy="586.8" r="4.7"/><circle cx="1504" cy="586.8" r="4.7"/><circle cx="1508.6" cy="586.8" r="4.7"/><circle cx="1511.8" cy="586.8" r="4.7"/><circle cx="1514.6" cy="586.8" r="4.7"/><circle cx="1517.4" cy="586.8" r="4.7"/><circle cx="1520.2" cy="586.8" r="4.7"/><circle cx="1523" cy="586.8" r="4.7"/><circle cx="1524.6" cy="586.8" r="4.7"/><circle cx="1527.4" cy="586.8" r="4.7"/><circle cx="1531.2" cy="586.8" r="4.7"/><circle cx="1541.5" cy="721.9" r="4.7"/><circle cx="1544.3" cy="721.9" r="4.7"/><circle cx="1545.9" cy="721.9" r="4.7"/><circle cx="1547.9" cy="721.9" r="4.7"/><circle cx="1549.5" cy="721.9" r="4.7"/><circle cx="1551.5" cy="721.9" r="4.7"/><circle cx="1554.3" cy="721.9" r="4.7"/><circle cx="1556.3" cy="721.9" r="4.7"/><circle cx="1557.9" cy="721.9" r="4.7"/><circle cx="1560.3" cy="721.9" r="4.7"/><circle cx="1563.5" cy="721.9" r="4.7"/><circle cx="1565.1" cy="721.9" r="4.7"/><circle cx="1566.7" cy="721.9" r="4.7"/><circle cx="1568.3" cy="721.9" r="4.7"/><circle cx="1571.5" cy="721.9" r="4.7"/><circle cx="1573.5" cy="721.9" r="4.7"/><circle cx="1575.4" cy="721.9" r="4.7"/><circle cx="1586.4" cy="586.8" r="4.7"/><circle cx="1588" cy="586.8" r="4.7"/><circle cx="1590.4" cy="586.8" r="4.7"/><circle cx="1593.6" cy="586.8" r="4.7"/><circle cx="1595.2" cy="586.8" r="4.7"/><circle cx="1596.8" cy="586.8" r="4.7"/><circle cx="1598.8" cy="586.8" r="4.7"/><circle cx="1602" cy="586.8" r="4.7"/><circle cx="1604.8" cy="586.8" r="4.7"/><circle cx="1606.8" cy="586.8" r="4.7"/><circle cx="1611.4" cy="586.8" r="4.7"/><circle cx="1613.8" cy="586.8" r="4.7"/><circle cx="1616.2" cy="586.8" r="4.7"/><circle cx="1619.4" cy="586.8" r="4.7"/><circle cx="1622.6" cy="586.8" r="4.7"/><circle cx="1632.7" cy="721.9" r="4.7"/><circle cx="1635.5" cy="721.9" r="4.7"/><circle cx="1637.1" cy="721.9" r="4.7"/><circle cx="1638.7" cy="721.9" r="4.7"/><circle cx="1641.5" cy="721.9" r="4.7"/><circle cx="1644.3" cy="721.9" r="4.7"/><circle cx="1647.1" cy="721.9" r="4.7"/><circle cx="1649.9" cy="721.9" r="4.7"/><circle cx="1652.3" cy="721.9" r="4.7"/><circle cx="1653.9" cy="721.9" r="4.7"/><circle cx="1655.9" cy="721.9" r="4.7"/><circle cx="1657.5" cy="721.9" r="4.7"/><circle cx="1662.1" cy="721.9" r="4.7"/><circle cx="1664.5" cy="721.9" r="4.7"/><circle cx="1669.3" cy="721.9" r="4.7"/><circle cx="1680.1" cy="586.8" r="4.7"/><circle cx="1682.5" cy="586.8" r="4.7"/><circle cx="1685.3" cy="586.8" r="4.7"/><circle cx="1689.9" cy="586.8" r="4.7"/><circle cx="1691.9" cy="586.8" r="4.7"/><circle cx="1695.1" cy="586.8" r="4.7"/><circle cx="1696.7" cy="586.8" r="4.7"/><circle cx="1698.7" cy="586.8" r="4.7"/><circle cx="1701.9" cy="586.8" r="4.7"/><circle cx="1704.3" cy="586.8" r="4.7"/><circle cx="1706.3" cy="586.8" r="4.7"/><circle cx="1710.9" cy="586.8" r="4.7"/><circle cx="1714.1" cy="586.8" r="4.7"/><circle cx="1715.8" cy="586.8" r="4.7"/><circle cx="1726.5" cy="721.9" r="4.7"/><circle cx="1729.7" cy="721.9" r="4.7"/><circle cx="1732.1" cy="721.9" r="4.7"/><circle cx="1736.7" cy="721.9" r="4.7"/><circle cx="1738.3" cy="721.9" r="4.7"/><circle cx="1742.9" cy="721.9" r="4.7"/><circle cx="1745.3" cy="721.9" r="4.7"/><circle cx="1748.5" cy="721.9" r="4.7"/><circle cx="1750.9" cy="721.9" r="4.7"/><circle cx="1752.9" cy="721.9" r="4.7"/><circle cx="1755.3" cy="721.9" r="4.7"/><circle cx="1757.3" cy="721.9" r="4.7"/><circle cx="1760.5" cy="721.9" r="4.7"/><circle cx="1764.5" cy="721.9" r="4.7"/><circle cx="1774.6" cy="586.8" r="4.7"/><circle cx="1777.8" cy="586.8" r="4.7"/><circle cx="1780.2" cy="586.8" r="4.7"/><circle cx="1784.8" cy="586.8" r="4.7"/><circle cx="1786.8" cy="586.8" r="4.7"/><circle cx="1790" cy="586.8" r="4.7"/><circle cx="1792" cy="586.8" r="4.7"/><circle cx="1794" cy="586.8" r="4.7"/><circle cx="1796.8" cy="586.8" r="4.7"/><circle cx="1801.4" cy="586.8" r="4.7"/><circle cx="1803.4" cy="586.8" r="4.7"/><circle cx="1805.4" cy="586.8" r="4.7"/><circle cx="1808.6" cy="586.8" r="4.7"/><circle cx="1811.8" cy="586.8" r="4.7"/><circle cx="1822.6" cy="721.9" r="4.7"/><circle cx="1825" cy="721.9" r="4.7"/><circle cx="1829.6" cy="721.9" r="4.7"/><circle cx="1831.2" cy="721.9" r="4.7"/><circle cx="1832.8" cy="721.9" r="4.7"/><circle cx="1835.2" cy="721.9" r="4.7"/><circle cx="1838" cy="721.9" r="4.7"/><circle cx="1840.4" cy="721.9" r="4.7"/><circle cx="1842.4" cy="721.9" r="4.7"/><circle cx="1847" cy="721.9" r="4.7"/><circle cx="1850.2" cy="721.9" r="4.7"/><circle cx="1852.6" cy="721.9" r="4.7"/><circle cx="1855.4" cy="721.9" r="4.7"/><circle cx="1858.4" cy="721.9" r="4.7"/><circle cx="1869.2" cy="586.8" r="4.7"/><circle cx="1871.6" cy="586.8" r="4.7"/><circle cx="1874" cy="586.8" r="4.7"/><circle cx="1875.6" cy="586.8" r="4.7"/><circle cx="1877.6" cy="586.8" r="4.7"/><circle cx="1879.2" cy="586.8" r="4.7"/><circle cx="1881.2" cy="586.8" r="4.7"/><circle cx="1884" cy="586.8" r="4.7"/><circle cx="1886" cy="586.8" r="4.7"/><circle cx="1888.4" cy="586.8" r="4.7"/><circle cx="1890.4" cy="586.8" r="4.7"/><circle cx="1893.2" cy="586.8" r="4.7"/><circle cx="1896.4" cy="586.8" r="4.7"/><circle cx="1899.6" cy="586.8" r="4.7"/><circle cx="1901.2" cy="586.8" r="4.7"/><circle cx="1904" cy="586.8" r="4.7"/><circle cx="1905.4" cy="586.8" r="4.7"/><circle cx="1915.7" cy="721.9" r="4.7"/><circle cx="1918.1" cy="721.9" r="4.7"/><circle cx="1922.7" cy="721.9" r="4.7"/><circle cx="1924.3" cy="721.9" r="4.7"/><circle cx="1928.9" cy="721.9" r="4.7"/><circle cx="1930.5" cy="721.9" r="4.7"/><circle cx="1933.3" cy="721.9" r="4.7"/><circle cx="1937.9" cy="721.9" r="4.7"/><circle cx="1939.9" cy="721.9" r="4.7"/><circle cx="1942.7" cy="721.9" r="4.7"/><circle cx="1944.7" cy="721.9" r="4.7"/><circle cx="1947.5" cy="721.9" r="4.7"/><circle cx="1952.1" cy="721.9" r="4.7"/><circle cx="1954.4" cy="721.9" r="4.7"/><circle cx="1964.8" cy="586.8" r="4.7"/><circle cx="1966.4" cy="586.8" r="4.7"/><circle cx="1971" cy="586.8" r="4.7"/><circle cx="1973.8" cy="586.8" r="4.7"/><circle cx="1976.6" cy="586.8" r="4.7"/><circle cx="1979.4" cy="586.8" r="4.7"/><circle cx="1984" cy="586.8" r="4.7"/><circle cx="1985.6" cy="586.8" r="4.7"/><circle cx="1990.2" cy="586.8" r="4.7"/><circle cx="1992.2" cy="586.8" r="4.7"/><circle cx="1994.2" cy="586.8" r="4.7"/><circle cx="1996.2" cy="586.8" r="4.7"/><circle cx="1997.8" cy="586.8" r="4.7"/><circle cx="2000" cy="586.8" r="4.7"/><circle cx="2010" cy="721.9" r="4.7"/><circle cx="2013.2" cy="721.9" r="4.7"/><circle cx="2016" cy="721.9" r="4.7"/><circle cx="2020.6" cy="721.9" r="4.7"/><circle cx="2022.6" cy="721.9" r="4.7"/><circle cx="2025.8" cy="721.9" r="4.7"/><circle cx="2029" cy="721.9" r="4.7"/><circle cx="2031.8" cy="721.9" r="4.7"/><circle cx="2036.4" cy="721.9" r="4.7"/><circle cx="2038.8" cy="721.9" r="4.7"/><circle cx="2040.8" cy="721.9" r="4.7"/><circle cx="2044" cy="721.9" r="4.7"/><circle cx="2047.9" cy="721.9" r="4.7"/><circle cx="2059.1" cy="586.8" r="4.7"/><circle cx="2061.1" cy="586.8" r="4.7"/><circle cx="2062.7" cy="586.8" r="4.7"/><circle cx="2064.3" cy="586.8" r="4.7"/><circle cx="2068.9" cy="586.8" r="4.7"/><circle cx="2073.5" cy="586.8" r="4.7"/><circle cx="2075.1" cy="586.8" r="4.7"/><circle cx="2078.3" cy="586.8" r="4.7"/><circle cx="2082.9" cy="586.8" r="4.7"/><circle cx="2084.9" cy="586.8" r="4.7"/><circle cx="2087.7" cy="586.8" r="4.7"/><circle cx="2089.7" cy="586.8" r="4.7"/><circle cx="2091.7" cy="586.8" r="4.7"/><circle cx="2093.3" cy="586.8" r="4.7"/><circle cx="2094.9" cy="586.8" r="4.7"/><circle cx="2105" cy="721.9" r="4.7"/><circle cx="2107" cy="721.9" r="4.7"/><circle cx="2109.4" cy="721.9" r="4.7"/><circle cx="2112.6" cy="721.9" r="4.7"/><circle cx="2114.6" cy="721.9" r="4.7"/><circle cx="2117.8" cy="721.9" r="4.7"/><circle cx="2120.2" cy="721.9" r="4.7"/><circle cx="2122.6" cy="721.9" r="4.7"/><circle cx="2125.8" cy="721.9" r="4.7"/><circle cx="2128.6" cy="721.9" r="4.7"/><circle cx="2130.6" cy="721.9" r="4.7"/><circle cx="2132.2" cy="721.9" r="4.7"/><circle cx="2136.8" cy="721.9" r="4.7"/><circle cx="2140.1" cy="721.9" r="4.7"/></g>
<rect x="1381.2" y="85.3" width="905.8" height="668.6" fill="none" stroke="#000" stroke-width="3.7" stroke-linejoin="miter"/>
<line x1="1381.2" y1="419.6" x2="2287" y2="419.6" stroke="#000" stroke-width="3.7"/>
<line x1="1494" y1="419.6" x2="1494" y2="402.95" stroke="#000" stroke-width="3.7"/>
<line x1="1494" y1="85.3" x2="1494" y2="101.95" stroke="#000" stroke-width="3.7"/>
<line x1="1720.65" y1="419.6" x2="1720.65" y2="402.95" stroke="#000" stroke-width="3.7"/>
<line x1="1720.65" y1="85.3" x2="1720.65" y2="101.95" stroke="#000" stroke-width="3.7"/>
<line x1="1947.3" y1="419.6" x2="1947.3" y2="402.95" stroke="#000" stroke-width="3.7"/>
<line x1="1947.3" y1="85.3" x2="1947.3" y2="101.95" stroke="#000" stroke-width="3.7"/>
<line x1="2173.95" y1="419.6" x2="2173.95" y2="402.95" stroke="#000" stroke-width="3.7"/>
<line x1="2173.95" y1="85.3" x2="2173.95" y2="101.95" stroke="#000" stroke-width="3.7"/>
<line x1="1607.33" y1="419.6" x2="1607.33" y2="410.75" stroke="#000" stroke-width="3.7"/>
<line x1="1607.33" y1="85.3" x2="1607.33" y2="94.15" stroke="#000" stroke-width="3.7"/>
<line x1="1833.97" y1="419.6" x2="1833.97" y2="410.75" stroke="#000" stroke-width="3.7"/>
<line x1="1833.97" y1="85.3" x2="1833.97" y2="94.15" stroke="#000" stroke-width="3.7"/>
<line x1="2060.62" y1="419.6" x2="2060.62" y2="410.75" stroke="#000" stroke-width="3.7"/>
<line x1="2060.62" y1="85.3" x2="2060.62" y2="94.15" stroke="#000" stroke-width="3.7"/>
<line x1="1494" y1="753.9" x2="1494" y2="737.25" stroke="#000" stroke-width="3.7"/>
<line x1="1720.65" y1="753.9" x2="1720.65" y2="737.25" stroke="#000" stroke-width="3.7"/>
<line x1="1947.3" y1="753.9" x2="1947.3" y2="737.25" stroke="#000" stroke-width="3.7"/>
<line x1="2173.95" y1="753.9" x2="2173.95" y2="737.25" stroke="#000" stroke-width="3.7"/>
<line x1="1607.33" y1="753.9" x2="1607.33" y2="745.05" stroke="#000" stroke-width="3.7"/>
<line x1="1833.97" y1="753.9" x2="1833.97" y2="745.05" stroke="#000" stroke-width="3.7"/>
<line x1="2060.62" y1="753.9" x2="2060.62" y2="745.05" stroke="#000" stroke-width="3.7"/>
<line x1="1381.2" y1="123.35" x2="1398.25" y2="123.35" stroke="#000" stroke-width="3.7"/>
<line x1="2287" y1="123.35" x2="2269.95" y2="123.35" stroke="#000" stroke-width="3.7"/>
<line x1="1381.2" y1="252" x2="1398.25" y2="252" stroke="#000" stroke-width="3.7"/>
<line x1="2287" y1="252" x2="2269.95" y2="252" stroke="#000" stroke-width="3.7"/>
<line x1="1381.2" y1="380.65" x2="1398.25" y2="380.65" stroke="#000" stroke-width="3.7"/>
<line x1="2287" y1="380.65" x2="2269.95" y2="380.65" stroke="#000" stroke-width="3.7"/>
<line x1="1381.2" y1="187.68" x2="1390.05" y2="187.68" stroke="#000" stroke-width="3.7"/>
<line x1="2287" y1="187.68" x2="2278.15" y2="187.68" stroke="#000" stroke-width="3.7"/>
<line x1="1381.2" y1="316.32" x2="1390.05" y2="316.32" stroke="#000" stroke-width="3.7"/>
<line x1="2287" y1="316.32" x2="2278.15" y2="316.32" stroke="#000" stroke-width="3.7"/>
<line x1="1381.2" y1="434.79" x2="1398.25" y2="434.79" stroke="#000" stroke-width="3.7"/>
<line x1="2287" y1="434.79" x2="2269.95" y2="434.79" stroke="#000" stroke-width="3.7"/>
<line x1="1381.2" y1="586.95" x2="1398.25" y2="586.95" stroke="#000" stroke-width="3.7"/>
<line x1="2287" y1="586.95" x2="2269.95" y2="586.95" stroke="#000" stroke-width="3.7"/>
<line x1="1381.2" y1="739.11" x2="1398.25" y2="739.11" stroke="#000" stroke-width="3.7"/>
<line x1="2287" y1="739.11" x2="2269.95" y2="739.11" stroke="#000" stroke-width="3.7"/>
<line x1="1381.2" y1="510.87" x2="1390.05" y2="510.87" stroke="#000" stroke-width="3.7"/>
<line x1="2287" y1="510.87" x2="2278.15" y2="510.87" stroke="#000" stroke-width="3.7"/>
<line x1="1381.2" y1="663.03" x2="1390.05" y2="663.03" stroke="#000" stroke-width="3.7"/>
<line x1="2287" y1="663.03" x2="2278.15" y2="663.03" stroke="#000" stroke-width="3.7"/>
<g transform="translate(1478.73,817.2) scale(1,1.04)"><text x="0" y="0" font-size="56">0</text></g>
<g transform="translate(1689.78,817.2) scale(1,1.04)"><text x="0" y="0" font-size="56">50</text></g>
<path d="M763 0L583 0L583 1100C540 1062 483 1024 413 987C343 950 280 922 223 902L223 1058C310 1095 386 1139 452 1191C518 1243 575 1320 605 1409L763 1409Z" fill="#000" transform="translate(1899.84,817.2) scale(0.02734,-0.02844)"/>
<g transform="translate(1930.99,817.2) scale(1,1.04)"><text x="0" y="0" font-size="56">00</text></g>
<path d="M763 0L583 0L583 1100C540 1062 483 1024 413 987C343 950 280 922 223 902L223 1058C310 1095 386 1139 452 1191C518 1243 575 1320 605 1409L763 1409Z" fill="#000" transform="translate(2126.49,817.2) scale(0.02734,-0.02844)"/>
<g transform="translate(2157.64,817.2) scale(1,1.04)"><text x="0" y="0" font-size="56">50</text></g>
<g transform="translate(1268.85,140.1) scale(1,1.04)"><text x="0" y="0" font-size="56">500</text></g>
<g transform="translate(1331.14,268.75) scale(1,1.04)"><text x="0" y="0" font-size="56">0</text></g>
<g transform="translate(1236.15,397.4) scale(1,1.04)"><text x="0" y="0" font-size="56">−500</text></g>
<g transform="translate(1237.71,451.54) scale(1,1.04)"><text x="0" y="0" font-size="56">2000</text></g>
<g transform="translate(1331.14,603.7) scale(1,1.04)"><text x="0" y="0" font-size="56">0</text></g>
<g transform="translate(1205.01,755.86) scale(1,1.04)"><text x="0" y="0" font-size="56">−2000</text></g>
<text x="1746.57" y="884" font-size="64.6" font-style="italic">t</text>
<text x="1764.51" y="884" font-size="64.6"> (</text>
<text x="1803.97" y="884" font-size="64.6">s</text>
<text x="1836.27" y="884" font-size="64.6">)</text>
<g transform="translate(1229.3,331.57) rotate(-90)"><g transform="translate(0,0) scale(1,1.04)"><text x="0" y="0" font-size="65" font-style="italic">I</text></g><text x="18.06" y="0" font-size="65"> (</text><path d="M0 451L72 451L72 123C90 80 130 69 181 69C230 69 270 100 294 139L294 451L368 451L368 108C368 72 385 58 410 62C430 66 448 80 470 100L470 45C445 15 415 -4 385 -4C345 -4 315 18 302 48C275 12 225 -9 170 -9C128 -9 95 3 72 22L62 -80C70 -105 76 -130 70 -155C62 -188 40 -205 13 -205C-15 -205 -36 -185 -36 -157C-36 -130 -20 -112 -8 -92C-3 -75 0 -50 0 0Z" fill="#000" transform="translate(57.76,0) scale(0.06500,-0.06500) translate(77,0)"/><g transform="translate(94.16,0) scale(1,1.04)"><text x="0" y="0" font-size="65">A</text></g><text x="137.52" y="0" font-size="65">)</text></g>
<g transform="translate(1232,660.06) rotate(-90)"><g transform="translate(0,0) scale(1,1.04)"><text x="0" y="0" font-size="64.3" font-style="italic">V</text></g><text x="42.89" y="0" font-size="64.3"> (</text><path d="M0 451L72 451L72 123C90 80 130 69 181 69C230 69 270 100 294 139L294 451L368 451L368 108C368 72 385 58 410 62C430 66 448 80 470 100L470 45C445 15 415 -4 385 -4C345 -4 315 18 302 48C275 12 225 -9 170 -9C128 -9 95 3 72 22L62 -80C70 -105 76 -130 70 -155C62 -188 40 -205 13 -205C-15 -205 -36 -185 -36 -157C-36 -130 -20 -112 -8 -92C-3 -75 0 -50 0 0Z" fill="#000" transform="translate(82.16,0) scale(0.06430,-0.06430) translate(77,0)"/><g transform="translate(118.17,0) scale(1,1.04)"><text x="0" y="0" font-size="64.3">V</text></g><text x="161.06" y="0" font-size="64.3">)</text></g>
<g transform="translate(1449.97,488.4) scale(1,1.04)"><text x="0" y="0" font-size="56" font-style="italic">T</text></g>
<text x="1484.18" y="488.4" font-size="56"> </text>
<g transform="translate(1499.73,488.4) scale(1,1.04)"><text x="0" y="0" font-size="56">=</text></g>
<text x="1532.44" y="488.4" font-size="56"> </text>
<g transform="translate(1548,488.4) scale(1,1.04)"><text x="0" y="0" font-size="56">30</text></g>
<text x="1610.29" y="488.4" font-size="56"> </text>
<g transform="translate(1625.84,488.4) scale(1,1.04)"><text x="0" y="0" font-size="56">K</text></g>
<g transform="translate(1943.69,482.8) scale(1,1.04)"><text x="0" y="0" font-size="56" font-style="italic">I</text></g>
<text x="1959.24" y="482.8" font-size="56"> </text>
<g transform="translate(1974.8,482.8) scale(1,1.04)"><text x="0" y="0" font-size="56">=</text></g>
<text x="2007.51" y="482.8" font-size="56"> </text>
<g transform="translate(2023.06,482.8) scale(1,1.04)"><text x="0" y="0" font-size="56">500</text></g>
<text x="2116.5" y="482.8" font-size="56"> </text>
<path d="M0 451L72 451L72 123C90 80 130 69 181 69C230 69 270 100 294 139L294 451L368 451L368 108C368 72 385 58 410 62C430 66 448 80 470 100L470 45C445 15 415 -4 385 -4C345 -4 315 18 302 48C275 12 225 -9 170 -9C128 -9 95 3 72 22L62 -80C70 -105 76 -130 70 -155C62 -188 40 -205 13 -205C-15 -205 -36 -185 -36 -157C-36 -130 -20 -112 -8 -92C-3 -75 0 -50 0 0Z" fill="#000" transform="translate(2132.06,482.8) scale(0.05600,-0.05600) translate(77,0)"/>
<g transform="translate(2163.42,482.8) scale(1,1.04)"><text x="0" y="0" font-size="56">A</text></g>
<text x="1944" y="552.9" font-size="56.4" font-style="italic">f</text>
<text x="1959.67" y="552.9" font-size="56.4"> </text>
<g transform="translate(1975.34,552.9) scale(1,1.04)"><text x="0" y="0" font-size="56.4">=</text></g>
<text x="2008.28" y="552.9" font-size="56.4"> </text>
<g transform="translate(2023.95,552.9) scale(1,1.04)"><text x="0" y="0" font-size="56.4">0.049</text></g>
<text x="2165.08" y="552.9" font-size="56.4"> </text>
<text x="2180.75" y="552.9" font-size="56.4">Hz</text>
<text x="1156.27" y="95.89" font-size="93" font-weight="bold">c</text>
<clipPath id="clipd"><rect x="1382.8" y="997.5" width="899.1" height="659.5"/></clipPath>
<g clip-path="url(#clipd)">
<line x1="1929.3" y1="1575.4" x2="2281.9" y2="1575.4" stroke="#000" stroke-width="7.4" stroke-dasharray="17.8 12.6"/>
<path d="M1976.87 1553.62 L1993.31 1277.48" stroke="#ECB024" stroke-width="3.4" fill="none" stroke-linecap="butt"/>
<g fill="#fff" stroke="#ECB024" stroke-width="4"><circle cx="1400.58" cy="1574.9" r="7.1"/><circle cx="1418.56" cy="1574.9" r="7.1"/><circle cx="1436.55" cy="1574.9" r="7.1"/><circle cx="1454.53" cy="1574.9" r="7.1"/><circle cx="1472.52" cy="1574.9" r="7.1"/><circle cx="1490.5" cy="1574.9" r="7.1"/><circle cx="1508.48" cy="1574.9" r="7.1"/><circle cx="1526.47" cy="1574.9" r="7.1"/><circle cx="1544.45" cy="1574.9" r="7.1"/><circle cx="1562.44" cy="1574.9" r="7.1"/><circle cx="1580.42" cy="1574.9" r="7.1"/><circle cx="1598.41" cy="1574.9" r="7.1"/><circle cx="1616.39" cy="1574.9" r="7.1"/><circle cx="1634.38" cy="1574.9" r="7.1"/><circle cx="1652.37" cy="1574.9" r="7.1"/><circle cx="1670.35" cy="1574.9" r="7.1"/><circle cx="1688.34" cy="1576" r="7.1"/><circle cx="1706.32" cy="1574.9" r="7.1"/><circle cx="1724.31" cy="1574.9" r="7.1"/><circle cx="1742.29" cy="1574.9" r="7.1"/><circle cx="1760.28" cy="1574.9" r="7.1"/><circle cx="1778.26" cy="1574.9" r="7.1"/><circle cx="1796.24" cy="1574.9" r="7.1"/><circle cx="1814.23" cy="1574.9" r="7.1"/><circle cx="1832.21" cy="1572.1" r="7.1"/><circle cx="1850.2" cy="1574.9" r="7.1"/><circle cx="1868.18" cy="1574.9" r="7.1"/><circle cx="1886.17" cy="1574.9" r="7.1"/><circle cx="1904.15" cy="1574.9" r="7.1"/><circle cx="1922.14" cy="1574.9" r="7.1"/><circle cx="1940.12" cy="1568.6" r="7.1"/><circle cx="1958.11" cy="1574.9" r="7.1"/><circle cx="1976.1" cy="1566.6" r="7.1"/><circle cx="1994.08" cy="1264.5" r="7.1"/><circle cx="2012.07" cy="1261.2" r="7.1"/><circle cx="2030.05" cy="1258.2" r="7.1"/><circle cx="2048.03" cy="1255.5" r="7.1"/><circle cx="2066.02" cy="1252.8" r="7.1"/><circle cx="2084.01" cy="1250.2" r="7.1"/><circle cx="2101.99" cy="1247.3" r="7.1"/><circle cx="2119.97" cy="1244.6" r="7.1"/><circle cx="2137.96" cy="1242" r="7.1"/><circle cx="2155.95" cy="1239.4" r="7.1"/><circle cx="2173.93" cy="1243.4" r="7.1"/><circle cx="2191.91" cy="1233.7" r="7.1"/><circle cx="2209.9" cy="1230.4" r="7.1"/><circle cx="2227.89" cy="1228" r="7.1"/><circle cx="2245.87" cy="1225.4" r="7.1"/><circle cx="2263.86" cy="1222.7" r="7.1"/><circle cx="2281.84" cy="1219.5" r="7.1"/></g>
<path d="M1725.81 1561.69 L1740.78 1433.41 M1744.16 1407.64 L1758.4 1309.66" stroke="#8C44A0" stroke-width="3.4" fill="none" stroke-linecap="butt"/>
<g fill="#fff" stroke="#8C44A0" stroke-width="4"><circle cx="1400.58" cy="1574.9" r="7.1"/><circle cx="1418.56" cy="1574.9" r="7.1"/><circle cx="1436.55" cy="1574.9" r="7.1"/><circle cx="1454.53" cy="1574.9" r="7.1"/><circle cx="1472.52" cy="1574.9" r="7.1"/><circle cx="1490.5" cy="1574.9" r="7.1"/><circle cx="1508.48" cy="1574.9" r="7.1"/><circle cx="1526.47" cy="1574.9" r="7.1"/><circle cx="1544.45" cy="1574.9" r="7.1"/><circle cx="1562.44" cy="1574.9" r="7.1"/><circle cx="1580.42" cy="1574.9" r="7.1"/><circle cx="1598.41" cy="1574.9" r="7.1"/><circle cx="1616.39" cy="1574.9" r="7.1"/><circle cx="1634.38" cy="1574.9" r="7.1"/><circle cx="1652.37" cy="1574.9" r="7.1"/><circle cx="1670.35" cy="1574.9" r="7.1"/><circle cx="1688.34" cy="1572.8" r="7.1"/><circle cx="1706.32" cy="1574.9" r="7.1"/><circle cx="1724.31" cy="1574.6" r="7.1"/><circle cx="1742.29" cy="1420.5" r="7.1"/><circle cx="1760.28" cy="1296.8" r="7.1"/><circle cx="1778.26" cy="1293.6" r="7.1"/><circle cx="1796.24" cy="1290.6" r="7.1"/><circle cx="1814.23" cy="1287.3" r="7.1"/><circle cx="1832.21" cy="1284.4" r="7.1"/><circle cx="1850.2" cy="1281.6" r="7.1"/><circle cx="1868.18" cy="1278.6" r="7.1"/><circle cx="1886.17" cy="1275.6" r="7.1"/><circle cx="1904.15" cy="1272.4" r="7.1"/><circle cx="1922.14" cy="1269.4" r="7.1"/><circle cx="1940.12" cy="1266.9" r="7.1"/><circle cx="1958.11" cy="1263.7" r="7.1"/><circle cx="1976.1" cy="1261.2" r="7.1"/><circle cx="1994.08" cy="1258.4" r="7.1"/><circle cx="2012.07" cy="1255.7" r="7.1"/><circle cx="2030.05" cy="1252.7" r="7.1"/><circle cx="2048.03" cy="1250" r="7.1"/><circle cx="2066.02" cy="1247.3" r="7.1"/><circle cx="2084.01" cy="1244.7" r="7.1"/><circle cx="2101.99" cy="1241.8" r="7.1"/><circle cx="2119.97" cy="1239.1" r="7.1"/><circle cx="2137.96" cy="1236.5" r="7.1"/><circle cx="2155.95" cy="1233.9" r="7.1"/><circle cx="2173.93" cy="1230.8" r="7.1"/><circle cx="2191.91" cy="1228.2" r="7.1"/><circle cx="2209.9" cy="1224.9" r="7.1"/><circle cx="2227.89" cy="1222.5" r="7.1"/><circle cx="2245.87" cy="1219.9" r="7.1"/><circle cx="2263.86" cy="1217.2" r="7.1"/><circle cx="2281.84" cy="1214" r="7.1"/></g>
</g>
<rect x="1382.8" y="997.5" width="899.1" height="659.5" fill="none" stroke="#000" stroke-width="3.8" stroke-linejoin="miter"/>
<line x1="1490.5" y1="1657" x2="1490.5" y2="1644.3" stroke="#000" stroke-width="3.8"/>
<line x1="1490.5" y1="997.5" x2="1490.5" y2="1010.2" stroke="#000" stroke-width="3.8"/>
<line x1="1850.2" y1="1657" x2="1850.2" y2="1644.3" stroke="#000" stroke-width="3.8"/>
<line x1="1850.2" y1="997.5" x2="1850.2" y2="1010.2" stroke="#000" stroke-width="3.8"/>
<line x1="2209.9" y1="1657" x2="2209.9" y2="1644.3" stroke="#000" stroke-width="3.8"/>
<line x1="2209.9" y1="997.5" x2="2209.9" y2="1010.2" stroke="#000" stroke-width="3.8"/>
<line x1="1670.35" y1="1657" x2="1670.35" y2="1650.3" stroke="#000" stroke-width="3.8"/>
<line x1="1670.35" y1="997.5" x2="1670.35" y2="1004.2" stroke="#000" stroke-width="3.8"/>
<line x1="2030.05" y1="1657" x2="2030.05" y2="1650.3" stroke="#000" stroke-width="3.8"/>
<line x1="2030.05" y1="997.5" x2="2030.05" y2="1004.2" stroke="#000" stroke-width="3.8"/>
<line x1="1382.8" y1="1575.4" x2="1396.1" y2="1575.4" stroke="#000" stroke-width="3.8"/>
<line x1="2281.9" y1="1575.4" x2="2268.6" y2="1575.4" stroke="#000" stroke-width="3.8"/>
<line x1="1382.8" y1="1410.1" x2="1396.1" y2="1410.1" stroke="#000" stroke-width="3.8"/>
<line x1="2281.9" y1="1410.1" x2="2268.6" y2="1410.1" stroke="#000" stroke-width="3.8"/>
<line x1="1382.8" y1="1244.8" x2="1396.1" y2="1244.8" stroke="#000" stroke-width="3.8"/>
<line x1="2281.9" y1="1244.8" x2="2268.6" y2="1244.8" stroke="#000" stroke-width="3.8"/>
<line x1="1382.8" y1="1079.5" x2="1396.1" y2="1079.5" stroke="#000" stroke-width="3.8"/>
<line x1="2281.9" y1="1079.5" x2="2268.6" y2="1079.5" stroke="#000" stroke-width="3.8"/>
<line x1="1382.8" y1="1492.75" x2="1389.5" y2="1492.75" stroke="#000" stroke-width="3.8"/>
<line x1="2281.9" y1="1492.75" x2="2275.2" y2="1492.75" stroke="#000" stroke-width="3.8"/>
<line x1="1382.8" y1="1327.45" x2="1389.5" y2="1327.45" stroke="#000" stroke-width="3.8"/>
<line x1="2281.9" y1="1327.45" x2="2275.2" y2="1327.45" stroke="#000" stroke-width="3.8"/>
<line x1="1382.8" y1="1162.15" x2="1389.5" y2="1162.15" stroke="#000" stroke-width="3.8"/>
<line x1="2281.9" y1="1162.15" x2="2275.2" y2="1162.15" stroke="#000" stroke-width="3.8"/>
<g transform="translate(1444.86,1715.2) scale(1,1.04)"><text x="0" y="0" font-size="55">400</text></g>
<g transform="translate(1804.09,1715.2) scale(1,1.04)"><text x="0" y="0" font-size="55">500</text></g>
<g transform="translate(2163.5,1715.2) scale(1,1.04)"><text x="0" y="0" font-size="55">600</text></g>
<g transform="translate(1339.96,1595.09) scale(1,1.04)"><text x="0" y="0" font-size="55">0</text></g>
<path d="M763 0L583 0L583 1100C540 1062 483 1024 413 987C343 950 280 922 223 902L223 1058C310 1095 386 1139 452 1191C518 1243 575 1320 605 1409L763 1409Z" fill="#000" transform="translate(1248.19,1429.79) scale(0.02686,-0.02793)"/>
<g transform="translate(1278.78,1429.79) scale(1,1.04)"><text x="0" y="0" font-size="55">000</text></g>
<g transform="translate(1248.19,1264.49) scale(1,1.04)"><text x="0" y="0" font-size="55">2000</text></g>
<g transform="translate(1248.19,1099.19) scale(1,1.04)"><text x="0" y="0" font-size="55">3000</text></g>
<text x="1750.88" y="1783.7" font-size="64">|</text>
<g transform="translate(1767.51,1783.7) scale(1,1.04)"><text x="0" y="0" font-size="64" font-style="italic">I</text></g>
<text x="1785.29" y="1783.7" font-size="64">| (</text>
<path d="M0 451L72 451L72 123C90 80 130 69 181 69C230 69 270 100 294 139L294 451L368 451L368 108C368 72 385 58 410 62C430 66 448 80 470 100L470 45C445 15 415 -4 385 -4C345 -4 315 18 302 48C275 12 225 -9 170 -9C128 -9 95 3 72 22L62 -80C70 -105 76 -130 70 -155C62 -188 40 -205 13 -205C-15 -205 -36 -185 -36 -157C-36 -130 -20 -112 -8 -92C-3 -75 0 -50 0 0Z" fill="#000" transform="translate(1841.01,1783.7) scale(0.06400,-0.06400) translate(77,0)"/>
<g transform="translate(1876.85,1783.7) scale(1,1.04)"><text x="0" y="0" font-size="64">A</text></g>
<text x="1919.53" y="1783.7" font-size="64">)</text>
<g transform="translate(1223.2,1415.23) rotate(-90)"><text x="0" y="0" font-size="64.1">|</text><g transform="translate(16.65,0) scale(1,1.04)"><text x="0" y="0" font-size="64.1" font-style="italic">V</text></g><text x="59.41" y="0" font-size="64.1">| (</text><path d="M0 451L72 451L72 123C90 80 130 69 181 69C230 69 270 100 294 139L294 451L368 451L368 108C368 72 385 58 410 62C430 66 448 80 470 100L470 45C445 15 415 -4 385 -4C345 -4 315 18 302 48C275 12 225 -9 170 -9C128 -9 95 3 72 22L62 -80C70 -105 76 -130 70 -155C62 -188 40 -205 13 -205C-15 -205 -36 -185 -36 -157C-36 -130 -20 -112 -8 -92C-3 -75 0 -50 0 0Z" fill="#000" transform="translate(115.21,0) scale(0.06410,-0.06410) translate(77,0)"/><g transform="translate(151.11,0) scale(1,1.04)"><text x="0" y="0" font-size="64.1">V</text></g><text x="193.86" y="0" font-size="64.1">)</text></g>
<line x1="1426.3" y1="1057.6" x2="1474.6" y2="1057.6" stroke="#ECB024" stroke-width="4.1"/>
<line x1="1501.4" y1="1057.6" x2="1548.8" y2="1057.6" stroke="#ECB024" stroke-width="4.1"/>
<circle cx="1487.4" cy="1057.6" r="7.5" fill="none" stroke="#ECB024" stroke-width="4"/>
<line x1="1426.3" y1="1124.6" x2="1474.6" y2="1124.6" stroke="#8C44A0" stroke-width="4.1"/>
<line x1="1501.4" y1="1124.6" x2="1548.8" y2="1124.6" stroke="#8C44A0" stroke-width="4.1"/>
<circle cx="1487.4" cy="1124.6" r="7.5" fill="none" stroke="#8C44A0" stroke-width="4"/>
<g transform="translate(1579.65,1077.14) scale(1,1.04)"><text x="0" y="0" font-size="55">0</text></g>
<rect x="1610.3" y="1056.1" width="37.3" height="4.6" fill="#000"/>
<g transform="translate(1647.49,1076.1) scale(1,1.04)"><text x="0" y="0" font-size="55">P</text></g>
<g transform="translate(1579.65,1144.74) scale(1,1.04)"><text x="0" y="0" font-size="55">0</text></g>
<rect x="1610.3" y="1123.4" width="37.3" height="4.6" fill="#000"/>
<g transform="translate(1647.49,1143.7) scale(1,1.04)"><text x="0" y="0" font-size="55">N</text></g>
<rect x="1783.3" y="1051.9" width="454.7" height="44.7" fill="#B3B3B3"/>
<rect x="1893.3" y="1096.6" width="28.9" height="11" fill="#FFD100"/>
<rect x="1965" y="1096.6" width="29.1" height="11" fill="#FFD100"/>
<rect x="2037.3" y="1096.6" width="29.1" height="11" fill="#FFD100"/>
<rect x="2109" y="1096.6" width="29.1" height="11" fill="#FFD100"/>
<rect x="1871.8" y="1107.6" width="288.2" height="11.2" fill="#00A0E9"/>
<text x="1977.49" y="1081.7" font-size="31" fill="#231815">SiO</text>
<g transform="translate(2029.72,1092.6) scale(1,1.04)"><text x="0" y="0" font-size="17.5" fill="#231815">2</text></g>
<g transform="translate(1954.81,1157.15) scale(1,1.04)"><text x="0" y="0" font-size="31.6" fill="#231815">BSCCO</text></g>
<g transform="translate(1410.67,1638.2) scale(1,1.04)"><text x="0" y="0" font-size="56" font-style="italic">T</text></g>
<text x="1444.88" y="1638.2" font-size="56"> </text>
<g transform="translate(1460.43,1638.2) scale(1,1.04)"><text x="0" y="0" font-size="56">=</text></g>
<text x="1493.14" y="1638.2" font-size="56"> </text>
<g transform="translate(1508.7,1638.2) scale(1,1.04)"><text x="0" y="0" font-size="56">30</text></g>
<text x="1570.99" y="1638.2" font-size="56"> </text>
<g transform="translate(1586.54,1638.2) scale(1,1.04)"><text x="0" y="0" font-size="56">K</text></g>
<path d="M763 0L583 0L583 1100C540 1062 483 1024 413 987C343 950 280 922 223 902L223 1058C310 1095 386 1139 452 1191C518 1243 575 1320 605 1409L763 1409Z" fill="#000" transform="translate(2126.16,1633.01) scale(0.02959,-0.03077)"/>
<g transform="translate(2159.86,1633.01) scale(1,1.04)"><text x="0" y="0" font-size="60.6">80</text></g>
<text x="2227.27" y="1633.01" font-size="60.6"> </text>
<g transform="translate(2244.11,1633.01) scale(1,1.04)"><text x="0" y="0" font-size="60.6">°</text></g>
<text x="1162.19" y="1000.5" font-size="93" font-weight="bold">d</text>
<g fill="url(#gP)"><circle cx="3402.4" cy="792.3" r="12.3"/><circle cx="3152.1" cy="661.6" r="12.3"/><circle cx="3110.3" cy="589.4" r="12.3"/><circle cx="3068.2" cy="458.3" r="12.3"/><circle cx="3051.3" cy="378.6" r="12.3"/><circle cx="3036" cy="299.6" r="12.3"/><circle cx="3027.6" cy="267.6" r="12.3"/><circle cx="3018" cy="222.1" r="12.3"/><circle cx="3010.4" cy="195.9" r="12.3"/><circle cx="2993.7" cy="188.2" r="12.3"/><circle cx="2985.4" cy="196.5" r="12.3"/><circle cx="2976.4" cy="189.4" r="12.3"/><circle cx="2968.7" cy="209.9" r="12.3"/><circle cx="2959.8" cy="202.3" r="12.3"/><circle cx="2950.8" cy="234.9" r="12.3"/><circle cx="2942.5" cy="247.1" r="12.3"/><circle cx="2934.2" cy="280.4" r="12.3"/><circle cx="2918.2" cy="372.4" r="12.3"/><circle cx="2901.5" cy="438.4" r="12.3"/><circle cx="2859.7" cy="582.7" r="12.3"/><circle cx="2817.9" cy="654.9" r="12.3"/><circle cx="2567.6" cy="785.6" r="12.3"/></g>
<g fill="url(#gB)"><circle cx="3402.4" cy="792.6" r="12.3"/><circle cx="3152.1" cy="661.6" r="12.3"/><circle cx="3110.3" cy="589.4" r="12.3"/><circle cx="3068.2" cy="458.3" r="12.3"/><circle cx="3051.3" cy="386.8" r="12.3"/><circle cx="3035.3" cy="320.7" r="12.3"/><circle cx="3026.4" cy="300.8" r="12.3"/><circle cx="3018" cy="274.6" r="12.3"/><circle cx="3011" cy="248.3" r="12.3"/><circle cx="2993.1" cy="248.3" r="12.3"/><circle cx="2984.7" cy="275.2" r="12.3"/><circle cx="2975.8" cy="267.6" r="12.3"/><circle cx="2968.1" cy="241.3" r="12.3"/><circle cx="2959.8" cy="248.3" r="12.3"/><circle cx="2952.7" cy="275.2" r="12.3"/><circle cx="2942.5" cy="267.6" r="12.3"/><circle cx="2934.8" cy="294.4" r="12.3"/><circle cx="2918.2" cy="379.9" r="12.3"/><circle cx="2901.5" cy="438.4" r="12.3"/><circle cx="2859.7" cy="582.7" r="12.3"/><circle cx="2817.9" cy="654.9" r="12.3"/><circle cx="2567.6" cy="785.6" r="12.3"/></g>
<g fill="url(#gP)"><circle cx="3402.3" cy="1589.8" r="12.3"/><circle cx="3149.9" cy="1589.8" r="12.3"/><circle cx="3109.1" cy="1589.8" r="12.3"/><circle cx="3068.4" cy="1589.8" r="12.3"/><circle cx="3051.8" cy="1519.6" r="12.3"/><circle cx="3035.2" cy="1406.5" r="12.3"/><circle cx="3026.7" cy="1297.8" r="12.3"/><circle cx="3018.5" cy="1149.6" r="12.3"/><circle cx="3010" cy="1167.5" r="12.3"/><circle cx="2993.2" cy="1116.9" r="12.3"/><circle cx="2985.3" cy="942.8" r="12.3"/><circle cx="2976.7" cy="949.9" r="12.3"/><circle cx="2968.3" cy="1324.6" r="12.3"/><circle cx="2959.7" cy="1218.2" r="12.3"/><circle cx="2951.7" cy="1256.3" r="12.3"/><circle cx="2943.3" cy="1422.4" r="12.3"/><circle cx="2934.6" cy="1472.2" r="12.3"/><circle cx="2918.2" cy="1520.2" r="12.3"/><circle cx="2901.6" cy="1589.8" r="12.3"/><circle cx="2860.6" cy="1589.8" r="12.3"/><circle cx="2819.2" cy="1589.8" r="12.3"/><circle cx="2567.6" cy="1589.8" r="12.3"/></g>
<rect x="2526.2" y="84.9" width="918.3" height="1573.7" fill="none" stroke="#000" stroke-width="3.7" stroke-linejoin="miter"/>
<line x1="2526.2" y1="858.4" x2="3444.5" y2="858.4" stroke="#000" stroke-width="3.7"/>
<line x1="2567.4" y1="1658.6" x2="2567.4" y2="1640.45" stroke="#000" stroke-width="3.7"/>
<line x1="2567.4" y1="84.9" x2="2567.4" y2="103.05" stroke="#000" stroke-width="3.7"/>
<line x1="2776.4" y1="1658.6" x2="2776.4" y2="1640.45" stroke="#000" stroke-width="3.7"/>
<line x1="2776.4" y1="84.9" x2="2776.4" y2="103.05" stroke="#000" stroke-width="3.7"/>
<line x1="2985.4" y1="1658.6" x2="2985.4" y2="1640.45" stroke="#000" stroke-width="3.7"/>
<line x1="2985.4" y1="84.9" x2="2985.4" y2="103.05" stroke="#000" stroke-width="3.7"/>
<line x1="3194.4" y1="1658.6" x2="3194.4" y2="1640.45" stroke="#000" stroke-width="3.7"/>
<line x1="3194.4" y1="84.9" x2="3194.4" y2="103.05" stroke="#000" stroke-width="3.7"/>
<line x1="3403.4" y1="1658.6" x2="3403.4" y2="1640.45" stroke="#000" stroke-width="3.7"/>
<line x1="3403.4" y1="84.9" x2="3403.4" y2="103.05" stroke="#000" stroke-width="3.7"/>
<line x1="2671.9" y1="1658.6" x2="2671.9" y2="1649.15" stroke="#000" stroke-width="3.7"/>
<line x1="2671.9" y1="84.9" x2="2671.9" y2="94.35" stroke="#000" stroke-width="3.7"/>
<line x1="2880.9" y1="1658.6" x2="2880.9" y2="1649.15" stroke="#000" stroke-width="3.7"/>
<line x1="2880.9" y1="84.9" x2="2880.9" y2="94.35" stroke="#000" stroke-width="3.7"/>
<line x1="3089.9" y1="1658.6" x2="3089.9" y2="1649.15" stroke="#000" stroke-width="3.7"/>
<line x1="3089.9" y1="84.9" x2="3089.9" y2="94.35" stroke="#000" stroke-width="3.7"/>
<line x1="3298.9" y1="1658.6" x2="3298.9" y2="1649.15" stroke="#000" stroke-width="3.7"/>
<line x1="3298.9" y1="84.9" x2="3298.9" y2="94.35" stroke="#000" stroke-width="3.7"/>
<line x1="2567.4" y1="840.1" x2="2567.4" y2="876.7" stroke="#000" stroke-width="3.7"/>
<line x1="2776.4" y1="840.1" x2="2776.4" y2="876.7" stroke="#000" stroke-width="3.7"/>
<line x1="2985.4" y1="840.1" x2="2985.4" y2="876.7" stroke="#000" stroke-width="3.7"/>
<line x1="3194.4" y1="840.1" x2="3194.4" y2="876.7" stroke="#000" stroke-width="3.7"/>
<line x1="3403.4" y1="840.1" x2="3403.4" y2="876.7" stroke="#000" stroke-width="3.7"/>
<line x1="2671.9" y1="849.1" x2="2671.9" y2="867.7" stroke="#000" stroke-width="3.7"/>
<line x1="2880.9" y1="849.1" x2="2880.9" y2="867.7" stroke="#000" stroke-width="3.7"/>
<line x1="3089.9" y1="849.1" x2="3089.9" y2="867.7" stroke="#000" stroke-width="3.7"/>
<line x1="3298.9" y1="849.1" x2="3298.9" y2="867.7" stroke="#000" stroke-width="3.7"/>
<line x1="2526.2" y1="740.52" x2="2543.65" y2="740.52" stroke="#000" stroke-width="3.7"/>
<line x1="3444.5" y1="740.52" x2="3427.05" y2="740.52" stroke="#000" stroke-width="3.7"/>
<line x1="2526.2" y1="478.06" x2="2543.65" y2="478.06" stroke="#000" stroke-width="3.7"/>
<line x1="3444.5" y1="478.06" x2="3427.05" y2="478.06" stroke="#000" stroke-width="3.7"/>
<line x1="2526.2" y1="215.6" x2="2543.65" y2="215.6" stroke="#000" stroke-width="3.7"/>
<line x1="3444.5" y1="215.6" x2="3427.05" y2="215.6" stroke="#000" stroke-width="3.7"/>
<line x1="2526.2" y1="609.29" x2="2535.65" y2="609.29" stroke="#000" stroke-width="3.7"/>
<line x1="3444.5" y1="609.29" x2="3435.05" y2="609.29" stroke="#000" stroke-width="3.7"/>
<line x1="2526.2" y1="346.83" x2="2535.65" y2="346.83" stroke="#000" stroke-width="3.7"/>
<line x1="3444.5" y1="346.83" x2="3435.05" y2="346.83" stroke="#000" stroke-width="3.7"/>
<line x1="2526.2" y1="1589.8" x2="2543.65" y2="1589.8" stroke="#000" stroke-width="3.7"/>
<line x1="3444.5" y1="1589.8" x2="3427.05" y2="1589.8" stroke="#000" stroke-width="3.7"/>
<line x1="2526.2" y1="1380.6" x2="2543.65" y2="1380.6" stroke="#000" stroke-width="3.7"/>
<line x1="3444.5" y1="1380.6" x2="3427.05" y2="1380.6" stroke="#000" stroke-width="3.7"/>
<line x1="2526.2" y1="1171.4" x2="2543.65" y2="1171.4" stroke="#000" stroke-width="3.7"/>
<line x1="3444.5" y1="1171.4" x2="3427.05" y2="1171.4" stroke="#000" stroke-width="3.7"/>
<line x1="2526.2" y1="962.2" x2="2543.65" y2="962.2" stroke="#000" stroke-width="3.7"/>
<line x1="3444.5" y1="962.2" x2="3427.05" y2="962.2" stroke="#000" stroke-width="3.7"/>
<line x1="2526.2" y1="1485.2" x2="2535.65" y2="1485.2" stroke="#000" stroke-width="3.7"/>
<line x1="3444.5" y1="1485.2" x2="3435.05" y2="1485.2" stroke="#000" stroke-width="3.7"/>
<line x1="2526.2" y1="1276" x2="2535.65" y2="1276" stroke="#000" stroke-width="3.7"/>
<line x1="3444.5" y1="1276" x2="3435.05" y2="1276" stroke="#000" stroke-width="3.7"/>
<line x1="2526.2" y1="1066.8" x2="2535.65" y2="1066.8" stroke="#000" stroke-width="3.7"/>
<line x1="3444.5" y1="1066.8" x2="3435.05" y2="1066.8" stroke="#000" stroke-width="3.7"/>
<path d="M763 0L583 0L583 1100C540 1062 483 1024 413 987C343 950 280 922 223 902L223 1058C310 1095 386 1139 452 1191C518 1243 575 1320 605 1409L763 1409Z" fill="#000" transform="translate(2407.77,758.24) scale(0.02881,-0.02996)"/>
<g transform="translate(2440.58,758.24) scale(1,1.04)"><text x="0" y="0" font-size="59">00</text></g>
<g transform="translate(2407.77,495.78) scale(1,1.04)"><text x="0" y="0" font-size="59">300</text></g>
<g transform="translate(2407.77,233.32) scale(1,1.04)"><text x="0" y="0" font-size="59">500</text></g>
<g transform="translate(2476.19,1610.92) scale(1,1.04)"><text x="0" y="0" font-size="59">0</text></g>
<g transform="translate(2476.85,1402.02) scale(1,1.04)"><text x="0" y="0" font-size="59">2</text></g>
<g transform="translate(2475.62,1192.51) scale(1,1.04)"><text x="0" y="0" font-size="59">4</text></g>
<g transform="translate(2476.48,983.32) scale(1,1.04)"><text x="0" y="0" font-size="59">6</text></g>
<g transform="translate(2524.24,1713.2) scale(1,1.04)"><text x="0" y="0" font-size="59.5">-50</text></g>
<g transform="translate(2733.33,1713.2) scale(1,1.04)"><text x="0" y="0" font-size="59.5">-25</text></g>
<g transform="translate(2968.85,1713.2) scale(1,1.04)"><text x="0" y="0" font-size="59.5">0</text></g>
<g transform="translate(3161.06,1713.2) scale(1,1.04)"><text x="0" y="0" font-size="59.5">25</text></g>
<g transform="translate(3370.28,1713.2) scale(1,1.04)"><text x="0" y="0" font-size="59.5">50</text></g>
<g transform="translate(2889.14,1784) scale(1,1.04)"><text x="0" y="0" font-size="63.6" font-style="italic">B</text></g>
<text x="2931.56" y="1784" font-size="63.6"> (</text>
<text x="2970.41" y="1784" font-size="63.6">mT</text>
<text x="3062.24" y="1784" font-size="63.6">)</text>
<g transform="translate(2384.8,568.17) rotate(-90)"><g transform="translate(0,0) scale(1,1.04)"><text x="0" y="0" font-size="65" font-style="italic">I</text></g><text x="18.06" y="18.2" font-size="44.85">c</text><text x="40.48" y="0" font-size="65"> (</text><path d="M0 451L72 451L72 123C90 80 130 69 181 69C230 69 270 100 294 139L294 451L368 451L368 108C368 72 385 58 410 62C430 66 448 80 470 100L470 45C445 15 415 -4 385 -4C345 -4 315 18 302 48C275 12 225 -9 170 -9C128 -9 95 3 72 22L62 -80C70 -105 76 -130 70 -155C62 -188 40 -205 13 -205C-15 -205 -36 -185 -36 -157C-36 -130 -20 -112 -8 -92C-3 -75 0 -50 0 0Z" fill="#000" transform="translate(80.19,0) scale(0.06500,-0.06500) translate(77,0)"/><g transform="translate(116.59,0) scale(1,1.04)"><text x="0" y="0" font-size="65">A</text></g><text x="159.94" y="0" font-size="65">)</text></g>
<g transform="translate(2400.8,1302.85) rotate(-90)"><text x="0" y="0" font-size="66" style="font-family:&quot;Liberation Serif&quot;,serif" font-style="italic">η</text><text x="32.74" y="0" font-size="66" style="font-family:&quot;Liberation Serif&quot;,serif"> (%)</text></g>
<g fill="url(#gP)"><circle cx="2633.4" cy="153.3" r="12.3"/></g>
<g fill="url(#gB)"><circle cx="2633.4" cy="241.7" r="12.3"/></g>
<g transform="translate(2702.99,174.4) scale(1,1.04)"><text x="0" y="0" font-size="61" font-style="italic">I</text></g>
<text x="2718.12" y="191.3" font-size="42">c+</text>
<text x="2701.15" y="263.1" font-size="61">|</text>
<g transform="translate(2718.59,262.7) scale(1,1.04)"><text x="0" y="0" font-size="61" font-style="italic">I</text></g>
<text x="2734.42" y="279.6" font-size="42">c</text>
<rect x="2755.6" y="266.9" width="12.7" height="3.6" fill="#000"/>
<text x="2769.85" y="263.1" font-size="61">|</text>
<g transform="translate(3157.52,207.3) scale(1,1.04)"><text x="0" y="0" font-size="56.5" font-style="italic">T</text></g>
<text x="3192.04" y="207.3" font-size="56.5"> </text>
<g transform="translate(3207.73,207.3) scale(1,1.04)"><text x="0" y="0" font-size="56.5">=</text></g>
<text x="3240.73" y="207.3" font-size="56.5"> </text>
<g transform="translate(3256.43,207.3) scale(1,1.04)"><text x="0" y="0" font-size="56.5">30</text></g>
<text x="3319.27" y="207.3" font-size="56.5"> </text>
<g transform="translate(3334.97,207.3) scale(1,1.04)"><text x="0" y="0" font-size="56.5">K</text></g>
<text x="2337.67" y="90.59" font-size="93" font-weight="bold">e</text>
</svg>
</body></html>
